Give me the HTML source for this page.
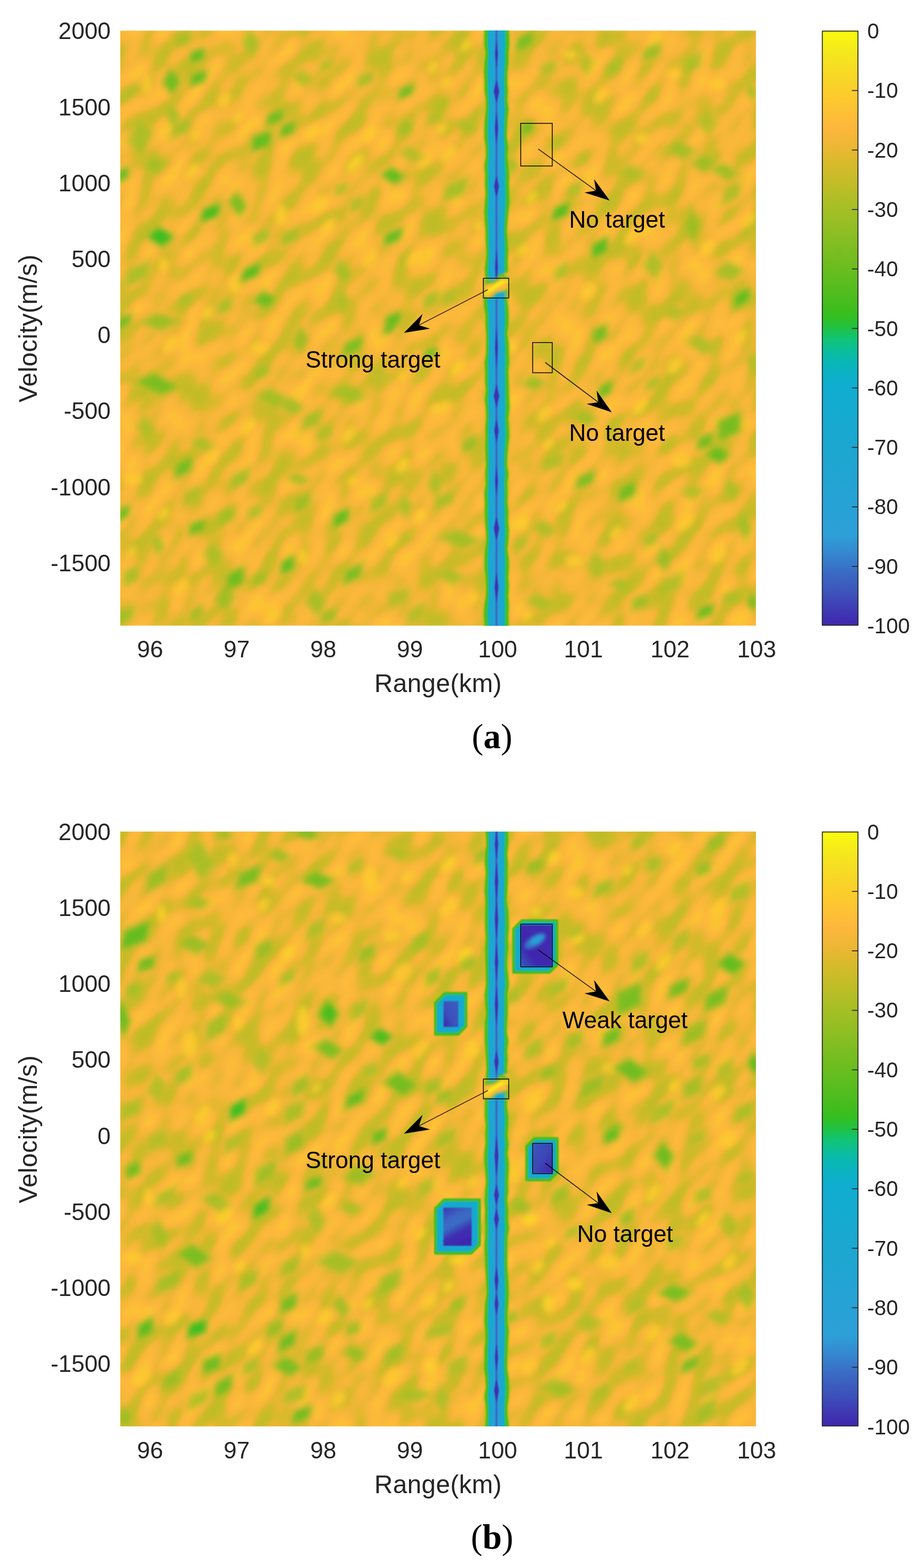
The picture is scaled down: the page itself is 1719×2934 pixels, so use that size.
<!DOCTYPE html>
<html lang="en"><head><meta charset="utf-8"><title>Range-velocity maps</title>
<style>html,body{margin:0;padding:0;background:#fff}body{width:1719px;height:2934px;overflow:hidden}svg{display:block}text{font-family:"Liberation Sans",Arial,Helvetica,sans-serif}.t{font-size:43.9px;fill:#262626}.c{font-size:39.8px;fill:#262626}.l{font-size:47.6px;fill:#262626;letter-spacing:.35px}.n{font-size:43.6px;fill:#000}.cap{font-family:"Liberation Serif","DejaVu Serif",serif;font-size:65px;fill:#000}</style></head><body>
<svg width="1719" height="2934" viewBox="0 0 1719 2934">
<defs>
<linearGradient id="cb" x1="0" y1="0" x2="0" y2="1">
<stop offset="0.000" stop-color="#f9fb0e"/>
<stop offset="0.040" stop-color="#f5e61e"/>
<stop offset="0.080" stop-color="#f8d626"/>
<stop offset="0.120" stop-color="#fdc730"/>
<stop offset="0.160" stop-color="#fdb83c"/>
<stop offset="0.190" stop-color="#f0b636"/>
<stop offset="0.220" stop-color="#d9ba2b"/>
<stop offset="0.260" stop-color="#c0bd27"/>
<stop offset="0.300" stop-color="#a4bf25"/>
<stop offset="0.350" stop-color="#87be22"/>
<stop offset="0.400" stop-color="#6abd1f"/>
<stop offset="0.450" stop-color="#4bbd1e"/>
<stop offset="0.480" stop-color="#35be1f"/>
<stop offset="0.500" stop-color="#1fc244"/>
<stop offset="0.520" stop-color="#10c47a"/>
<stop offset="0.550" stop-color="#08b9ae"/>
<stop offset="0.580" stop-color="#0cb0c8"/>
<stop offset="0.600" stop-color="#10add0"/>
<stop offset="0.700" stop-color="#1ba7d0"/>
<stop offset="0.800" stop-color="#27a2d5"/>
<stop offset="0.850" stop-color="#2e9fd8"/>
<stop offset="0.880" stop-color="#3586cf"/>
<stop offset="0.910" stop-color="#3a6cc4"/>
<stop offset="0.950" stop-color="#3d4fba"/>
<stop offset="0.980" stop-color="#3f35b2"/>
<stop offset="1.000" stop-color="#3f26ae"/>
</linearGradient>
<linearGradient id="st" gradientUnits="userSpaceOnUse" x1="914.7" y1="0" x2="942.7" y2="0">
<stop offset="0.0000" stop-color="#12acd0" stop-opacity="1"/>
<stop offset="0.0714" stop-color="#17a9d0" stop-opacity="1"/>
<stop offset="0.2143" stop-color="#1da6d1" stop-opacity="1"/>
<stop offset="0.4036" stop-color="#27a2d5" stop-opacity="1"/>
<stop offset="0.4500" stop-color="#3875c8" stop-opacity="1"/>
<stop offset="0.5000" stop-color="#3e46b7" stop-opacity="1"/>
<stop offset="0.5500" stop-color="#3875c8" stop-opacity="1"/>
<stop offset="0.5964" stop-color="#27a2d5" stop-opacity="1"/>
<stop offset="0.7857" stop-color="#1da6d1" stop-opacity="1"/>
<stop offset="0.9286" stop-color="#17a9d0" stop-opacity="1"/>
<stop offset="1.0000" stop-color="#12acd0" stop-opacity="1"/>
</linearGradient>
<filter id="b2" x="-50%" y="-50%" width="200%" height="200%"><feGaussianBlur stdDeviation="2"/></filter>
<filter id="b05" x="-20%" y="-1%" width="140%" height="102%"><feGaussianBlur stdDeviation="0.8"/></filter>
<filter id="b1" x="-50%" y="-50%" width="200%" height="200%"><feGaussianBlur stdDeviation="1"/></filter>
<filter id="b6" x="-50%" y="-50%" width="200%" height="200%"><feGaussianBlur stdDeviation="6"/></filter>
<filter id="b9" x="-50%" y="-50%" width="200%" height="200%"><feGaussianBlur stdDeviation="9"/></filter>
<clipPath id="cpa"><rect x="225.0" y="57.5" width="1189.0" height="1113.0"/></clipPath>
<clipPath id="cpb"><rect x="225.0" y="1556.0" width="1189.0" height="1113.0"/></clipPath>
<filter id="na" x="0" y="0" width="100%" height="100%" color-interpolation-filters="sRGB"><feTurbulence type="fractalNoise" baseFrequency="0.017 0.034" numOctaves="1" seed="3" result="t"/><feColorMatrix in="t" type="matrix" values="1 0 0 0 0  1 0 0 0 0  1 0 0 0 0  0 0 0 0 1"/><feComponentTransfer><feFuncR type="table" tableValues="0.737 0.741 0.741 0.745 0.745 0.749 0.749 0.753 0.753 0.761 0.769 0.776 0.788 0.804 0.820 0.835 0.855 0.878 0.902 0.929 0.949 0.961 0.973 0.980 0.988 0.992 0.992 0.992 0.992 0.992 0.992 0.992 0.992 0.992 0.992 0.992 0.988 0.988 0.988 0.984 0.984"/><feFuncG type="table" tableValues="0.741 0.741 0.741 0.741 0.741 0.741 0.741 0.741 0.741 0.741 0.737 0.737 0.737 0.733 0.733 0.729 0.729 0.725 0.722 0.718 0.714 0.718 0.718 0.722 0.722 0.725 0.733 0.741 0.749 0.757 0.761 0.769 0.773 0.776 0.780 0.784 0.788 0.792 0.796 0.800 0.804"/><feFuncB type="table" tableValues="0.153 0.153 0.153 0.153 0.153 0.153 0.153 0.153 0.153 0.153 0.157 0.157 0.157 0.161 0.165 0.165 0.173 0.180 0.192 0.208 0.216 0.220 0.227 0.231 0.235 0.231 0.227 0.220 0.216 0.208 0.204 0.200 0.196 0.192 0.188 0.188 0.184 0.180 0.180 0.176 0.173"/></feComponentTransfer></filter>
<filter id="nb" x="0" y="0" width="100%" height="100%" color-interpolation-filters="sRGB"><feTurbulence type="fractalNoise" baseFrequency="0.017 0.034" numOctaves="1" seed="11" result="t"/><feColorMatrix in="t" type="matrix" values="1 0 0 0 0  1 0 0 0 0  1 0 0 0 0  0 0 0 0 1"/><feComponentTransfer><feFuncR type="table" tableValues="0.737 0.741 0.741 0.745 0.745 0.749 0.749 0.753 0.753 0.761 0.769 0.776 0.788 0.804 0.820 0.835 0.855 0.878 0.902 0.929 0.949 0.961 0.973 0.980 0.988 0.992 0.992 0.992 0.992 0.992 0.992 0.992 0.992 0.992 0.992 0.992 0.988 0.988 0.988 0.984 0.984"/><feFuncG type="table" tableValues="0.741 0.741 0.741 0.741 0.741 0.741 0.741 0.741 0.741 0.741 0.737 0.737 0.737 0.733 0.733 0.729 0.729 0.725 0.722 0.718 0.714 0.718 0.718 0.722 0.722 0.725 0.733 0.741 0.749 0.757 0.761 0.769 0.773 0.776 0.780 0.784 0.788 0.792 0.796 0.800 0.804"/><feFuncB type="table" tableValues="0.153 0.153 0.153 0.153 0.153 0.153 0.153 0.153 0.153 0.153 0.157 0.157 0.157 0.161 0.165 0.165 0.173 0.180 0.192 0.208 0.216 0.220 0.227 0.231 0.235 0.231 0.227 0.220 0.216 0.208 0.204 0.200 0.196 0.192 0.188 0.188 0.184 0.180 0.180 0.176 0.173"/></feComponentTransfer></filter>
<linearGradient id="gW" x1="0" y1="1" x2="1" y2="0"><stop offset="0" stop-color="#3c56bc"/><stop offset=".3" stop-color="#3f26ae"/><stop offset="1" stop-color="#3f2eb0"/></linearGradient><linearGradient id="gL" x1="1" y1="0" x2="0" y2="1"><stop offset="0" stop-color="#3c5ebf"/><stop offset=".6" stop-color="#3d4fba"/><stop offset="1" stop-color="#3f26ae"/></linearGradient><linearGradient id="gN" x1="0" y1="0" x2="1" y2="1"><stop offset="0" stop-color="#3c56bc"/><stop offset=".5" stop-color="#3e46b7"/><stop offset="1" stop-color="#3f26ae"/></linearGradient><linearGradient id="gB" x1=".2" y1="0" x2=".6" y2="1"><stop offset="0" stop-color="#3e3eb5"/><stop offset=".25" stop-color="#3b65c2"/><stop offset=".45" stop-color="#3a6cc4"/><stop offset=".7" stop-color="#3f2eb0"/><stop offset="1" stop-color="#3f26ae"/></linearGradient>
<filter id="b3" x="-50%" y="-50%" width="200%" height="200%"><feGaussianBlur stdDeviation="3"/></filter>
<filter id="bg" x="-5%" y="-5%" width="110%" height="110%" color-interpolation-filters="sRGB"><feGaussianBlur stdDeviation="5.5"/></filter>
<filter id="by" x="-5%" y="-5%" width="110%" height="110%" color-interpolation-filters="sRGB"><feGaussianBlur stdDeviation="6"/></filter>
</defs>
<rect width="1719" height="2934" fill="#fff"/>
<g clip-path="url(#cpa)">
<rect x="225.0" y="57.5" width="1189.0" height="1113.0" fill="#ecb735"/>
<g transform="rotate(-52 819.5 614.0)"><rect x="-80.5" y="-286.0" width="1800" height="1800" filter="url(#na)"/></g>
<g filter="url(#by)" opacity=".95"><ellipse cx="274" cy="159" rx="8" ry="17" fill="#fcc92f"/><ellipse cx="420" cy="187" rx="14" ry="9" fill="#fcc92f" transform="rotate(-50 420 187)"/><ellipse cx="359" cy="321" rx="18" ry="9" fill="#fcc92f" transform="rotate(-50 359 321)"/><ellipse cx="664" cy="305" rx="21" ry="11" fill="#fbcd2c" transform="rotate(-50 664 305)"/><ellipse cx="599" cy="382" rx="18" ry="11" fill="#fcc92f" transform="rotate(-50 599 382)"/><ellipse cx="526" cy="403" rx="11" ry="20" fill="#fcc92f"/><ellipse cx="615" cy="423" rx="18" ry="9" fill="#fcc92f" transform="rotate(-50 615 423)"/><ellipse cx="440" cy="533" rx="11" ry="17" fill="#fcc92f"/><ellipse cx="583" cy="248" rx="18" ry="9" fill="#fcc92f" transform="rotate(-50 583 248)"/><ellipse cx="692" cy="252" rx="18" ry="9" fill="#fcc92f" transform="rotate(-50 692 252)"/><ellipse cx="810" cy="126" rx="11" ry="7" fill="#fad02a" transform="rotate(-50 810 126)"/><ellipse cx="794" cy="301" rx="18" ry="9" fill="#fcc92f" transform="rotate(-50 794 301)"/><ellipse cx="388" cy="585" rx="14" ry="9" fill="#fcc92f" transform="rotate(-50 388 585)"/><ellipse cx="692" cy="484" rx="18" ry="9" fill="#fcc92f" transform="rotate(-50 692 484)"/><ellipse cx="367" cy="252" rx="14" ry="7" fill="#fcc92f" transform="rotate(-50 367 252)"/><ellipse cx="445" cy="220" rx="14" ry="7" fill="#fcc92f" transform="rotate(-50 445 220)"/><ellipse cx="306" cy="496" rx="9" ry="14" fill="#fcc92f"/><ellipse cx="774" cy="484" rx="18" ry="9" fill="#fcc92f" transform="rotate(-50 774 484)"/><ellipse cx="872" cy="85" rx="14" ry="7" fill="#fad02a" transform="rotate(-50 872 85)"/><ellipse cx="835" cy="155" rx="11" ry="7" fill="#fbcd2c" transform="rotate(-50 835 155)"/><ellipse cx="1067" cy="102" rx="14" ry="9" fill="#fcc92f"/><ellipse cx="994" cy="370" rx="14" ry="7" fill="#fad02a" transform="rotate(-50 994 370)"/><ellipse cx="978" cy="468" rx="14" ry="7" fill="#fad02a" transform="rotate(-50 978 468)"/><ellipse cx="896" cy="423" rx="8" ry="11" fill="#fcc92f"/><ellipse cx="1124" cy="179" rx="18" ry="9" fill="#fcc92f" transform="rotate(-50 1124 179)"/><ellipse cx="1343" cy="159" rx="14" ry="9" fill="#fcc92f"/><ellipse cx="1201" cy="260" rx="14" ry="9" fill="#fcc92f"/><ellipse cx="827" cy="240" rx="11" ry="7" fill="#fad02a" transform="rotate(-50 827 240)"/><ellipse cx="839" cy="289" rx="18" ry="9" fill="#fcc92f" transform="rotate(-50 839 289)"/><ellipse cx="1100" cy="545" rx="18" ry="11" fill="#fcc92f" transform="rotate(-50 1100 545)"/><ellipse cx="1323" cy="464" rx="18" ry="11" fill="#fcc92f" transform="rotate(-50 1323 464)"/><ellipse cx="1181" cy="443" rx="18" ry="9" fill="#fcc92f" transform="rotate(-50 1181 443)"/><ellipse cx="1400" cy="411" rx="18" ry="9" fill="#fcc92f" transform="rotate(-50 1400 411)"/><ellipse cx="1262" cy="138" rx="14" ry="9" fill="#fcc92f"/><ellipse cx="465" cy="798" rx="18" ry="9" fill="#fbcd2c" transform="rotate(-50 465 798)"/><ellipse cx="786" cy="965" rx="14" ry="7" fill="#fad02a" transform="rotate(-50 786 965)"/><ellipse cx="566" cy="1042" rx="9" ry="14" fill="#fbcd2c"/><ellipse cx="660" cy="900" rx="11" ry="7" fill="#fbcd2c" transform="rotate(-50 660 900)"/><ellipse cx="733" cy="1013" rx="14" ry="7" fill="#fbcd2c" transform="rotate(-50 733 1013)"/><ellipse cx="396" cy="855" rx="14" ry="9" fill="#fcc92f" transform="rotate(-50 396 855)"/><ellipse cx="318" cy="644" rx="18" ry="9" fill="#fcc92f" transform="rotate(-50 318 644)"/><ellipse cx="485" cy="652" rx="17" ry="11" fill="#fcc92f"/><ellipse cx="306" cy="961" rx="14" ry="9" fill="#fcc92f" transform="rotate(-50 306 961)"/><ellipse cx="245" cy="1034" rx="14" ry="7" fill="#fcc92f" transform="rotate(-50 245 1034)"/><ellipse cx="339" cy="1099" rx="18" ry="9" fill="#fcc92f" transform="rotate(-50 339 1099)"/><ellipse cx="753" cy="704" rx="11" ry="7" fill="#fcc92f" transform="rotate(-50 753 704)"/><ellipse cx="652" cy="814" rx="18" ry="9" fill="#fcc92f" transform="rotate(-50 652 814)"/><ellipse cx="814" cy="765" rx="11" ry="6" fill="#fbcd2c" transform="rotate(-50 814 765)"/><ellipse cx="510" cy="1152" rx="18" ry="9" fill="#fcc92f" transform="rotate(-50 510 1152)"/><ellipse cx="753" cy="871" rx="18" ry="11" fill="#fcc92f" transform="rotate(-50 753 871)"/><ellipse cx="249" cy="896" rx="17" ry="11" fill="#fcc92f"/><ellipse cx="856" cy="688" rx="18" ry="9" fill="#fbcd2c" transform="rotate(-50 856 688)"/><ellipse cx="1197" cy="761" rx="18" ry="9" fill="#fbcd2c" transform="rotate(-50 1197 761)"/><ellipse cx="1026" cy="831" rx="11" ry="7" fill="#fad02a" transform="rotate(-50 1026 831)"/><ellipse cx="978" cy="981" rx="14" ry="9" fill="#fad02a" transform="rotate(-50 978 981)"/><ellipse cx="1051" cy="948" rx="14" ry="7" fill="#fbcd2c" transform="rotate(-50 1051 948)"/><ellipse cx="831" cy="761" rx="14" ry="7" fill="#fbcd2c" transform="rotate(-50 831 761)"/><ellipse cx="957" cy="648" rx="8" ry="11" fill="#fad02a"/><ellipse cx="1075" cy="1050" rx="17" ry="11" fill="#fcc92f"/><ellipse cx="1262" cy="684" rx="18" ry="11" fill="#fcc92f" transform="rotate(-50 1262 684)"/><ellipse cx="1282" cy="977" rx="21" ry="11" fill="#fcc92f" transform="rotate(-50 1282 977)"/><ellipse cx="1018" cy="774" rx="18" ry="9" fill="#fcc92f" transform="rotate(-50 1018 774)"/><ellipse cx="1384" cy="631" rx="18" ry="9" fill="#fcc92f" transform="rotate(-50 1384 631)"/><ellipse cx="1274" cy="863" rx="17" ry="11" fill="#fcc92f"/><ellipse cx="1152" cy="997" rx="14" ry="9" fill="#fcc92f" transform="rotate(-50 1152 997)"/><ellipse cx="884" cy="1119" rx="14" ry="9" fill="#fcc92f" transform="rotate(-50 884 1119)"/><ellipse cx="986" cy="1152" rx="11" ry="7" fill="#fbcd2c" transform="rotate(-50 986 1152)"/><ellipse cx="1343" cy="1038" rx="18" ry="11" fill="#fcc92f" transform="rotate(-50 1343 1038)"/></g>
<g filter="url(#bg)"><path d="M-27 -1L-4 -17L27 1L4 17Z" fill="#b9be26" opacity="0.6" transform="translate(369 104) rotate(-50)"/><path d="M-18 -1L-3 -12L18 1L3 12Z" fill="#64bd1f" transform="translate(369 104) rotate(-50)"/><path d="M-31 -2L-5 -17L31 2L5 17Z" fill="#b9be26" opacity="0.6" transform="translate(371 146) rotate(-50)"/><path d="M-21 -2L-3 -12L21 2L3 12Z" fill="#64bd1f" transform="translate(371 146) rotate(-50)"/><path d="M-22 2L-3 -34L22 -2L3 34Z" fill="#bdbd27" opacity="0.6" transform="translate(321 153)"/><path d="M-15 2L-2 -23L15 -2L2 23Z" fill="#70bd20" transform="translate(321 153)"/><path d="M-31 -3L-5 -17L31 3L5 17Z" fill="#bdbd27" opacity="0.6" transform="translate(514 220) rotate(-50)"/><path d="M-21 -3L-3 -12L21 3L3 12Z" fill="#70bd20" transform="translate(514 220) rotate(-50)"/><path d="M-31 0L-5 -17L31 -0L5 17Z" fill="#bdbd27" opacity="0.6" transform="translate(538 242) rotate(-50)"/><path d="M-21 0L-3 -12L21 -0L3 12Z" fill="#70bd20" transform="translate(538 242) rotate(-50)"/><path d="M-39 -1L-6 -24L39 1L6 24Z" fill="#b9be26" opacity="0.6" transform="translate(489 264) rotate(-50)"/><path d="M-26 -1L-4 -16L26 1L4 16Z" fill="#64bd1f" transform="translate(489 264) rotate(-50)"/><path d="M-35 -3L-5 -19L35 3L5 19Z" fill="#aebe26" opacity="0.6" transform="translate(394 398) rotate(-50)"/><path d="M-24 -3L-4 -13L24 3L4 13Z" fill="#44bd1e" transform="translate(394 398) rotate(-50)"/><path d="M-34 0L-5 -25L34 -0L5 25Z" fill="#acbe26" opacity="0.6" transform="translate(300 443)"/><path d="M-23 0L-3 -17L23 -0L3 17Z" fill="#3cbe1f" transform="translate(300 443)"/><path d="M-35 -3L-5 -17L35 3L5 17Z" fill="#b5be26" opacity="0.6" transform="translate(469 510) rotate(-50)"/><path d="M-24 -3L-4 -12L24 3L4 12Z" fill="#57bd1e" transform="translate(469 510) rotate(-50)"/><path d="M-31 -1L-5 -22L31 1L5 22Z" fill="#b9be26" opacity="0.6" transform="translate(735 329)"/><path d="M-21 -1L-3 -15L21 1L3 15Z" fill="#64bd1f" transform="translate(735 329)"/><path d="M-35 -3L-5 -17L35 3L5 17Z" fill="#b9be26" opacity="0.6" transform="translate(735 443) rotate(-50)"/><path d="M-24 -3L-4 -12L24 3L4 12Z" fill="#64bd1f" transform="translate(735 443) rotate(-50)"/><path d="M-31 -2L-5 -14L31 2L5 14Z" fill="#bdbd27" opacity="0.6" transform="translate(760 171) rotate(-50)"/><path d="M-21 -2L-3 -10L21 2L3 10Z" fill="#70bd20" transform="translate(760 171) rotate(-50)"/><path d="M-31 -0L-5 -17L31 0L5 17Z" fill="#b5be26" opacity="0.6" transform="translate(735 600) rotate(-50)"/><path d="M-21 -0L-3 -12L21 0L3 12Z" fill="#57bd1e" transform="translate(735 600) rotate(-50)"/><path d="M-31 3L-5 -22L31 -3L5 22Z" fill="#bdbd27" opacity="0.6" transform="translate(495 561)"/><path d="M-21 3L-3 -15L21 -3L3 15Z" fill="#70bd20" transform="translate(495 561)"/><path d="M-22 -4L-3 -31L22 4L3 31Z" fill="#c1bd27" opacity="0.6" transform="translate(445 382)"/><path d="M-15 -4L-2 -21L15 4L2 21Z" fill="#7bbe21" transform="translate(445 382)"/><path d="M-31 -2L-5 -17L31 2L5 17Z" fill="#c7bc28" opacity="0.45" transform="translate(684 148) rotate(-50)"/><path d="M-21 -2L-3 -12L21 2L3 12Z" fill="#98bf24" opacity=".8" transform="translate(684 148) rotate(-50)"/><path d="M-27 1L-4 -17L27 -1L4 17Z" fill="#c7bc28" opacity="0.45" transform="translate(758 240) rotate(-50)"/><path d="M-18 1L-3 -12L18 -1L3 12Z" fill="#98bf24" opacity=".8" transform="translate(758 240) rotate(-50)"/><path d="M-27 2L-4 -14L27 -2L4 14Z" fill="#b9be26" opacity="0.6" transform="translate(229 327) rotate(-50)"/><path d="M-18 2L-3 -10L18 -2L3 10Z" fill="#64bd1f" transform="translate(229 327) rotate(-50)"/><path d="M-22 1L-3 -37L22 -1L3 37Z" fill="#c9bc28" opacity="0.45" transform="translate(469 81)"/><path d="M-15 1L-2 -25L15 -1L2 25Z" fill="#9ebf24" opacity=".8" transform="translate(469 81)"/><path d="M-31 -1L-5 -17L31 1L5 17Z" fill="#c9bc28" opacity="0.45" transform="translate(343 73) rotate(-50)"/><path d="M-21 -1L-3 -12L21 1L3 12Z" fill="#9ebf24" opacity=".8" transform="translate(343 73) rotate(-50)"/><path d="M-31 9L-5 -49L31 -9L5 49Z" fill="#cbbc29" opacity="0.45" transform="translate(262 256)"/><path d="M-21 9L-3 -34L21 -9L3 34Z" fill="#a4bf25" opacity=".8" transform="translate(262 256)"/><path d="M-39 -3L-6 -19L39 3L6 19Z" fill="#c9bc28" opacity="0.45" transform="translate(339 240) rotate(-50)"/><path d="M-26 -3L-4 -13L26 3L4 13Z" fill="#9ebf24" opacity=".8" transform="translate(339 240) rotate(-50)"/><path d="M-31 3L-5 -22L31 -3L5 22Z" fill="#c9bc28" opacity="0.45" transform="translate(290 309)"/><path d="M-21 3L-3 -15L21 -3L3 15Z" fill="#9ebf24" opacity=".8" transform="translate(290 309)"/><path d="M-31 -1L-5 -17L31 1L5 17Z" fill="#c7bc28" opacity="0.45" transform="translate(489 443) rotate(-50)"/><path d="M-21 -1L-3 -12L21 1L3 12Z" fill="#98bf24" opacity=".8" transform="translate(489 443) rotate(-50)"/><path d="M-35 -3L-5 -19L35 3L5 19Z" fill="#c7bc28" opacity="0.45" transform="translate(542 443) rotate(-50)"/><path d="M-24 -3L-4 -13L24 3L4 13Z" fill="#98bf24" opacity=".8" transform="translate(542 443) rotate(-50)"/><path d="M-22 -4L-3 -31L22 4L3 31Z" fill="#c9bc28" opacity="0.45" transform="translate(640 508)"/><path d="M-15 -4L-2 -21L15 4L2 21Z" fill="#9ebf24" opacity=".8" transform="translate(640 508)"/><path d="M-46 -2L-7 -24L46 2L7 24Z" fill="#c9bc28" opacity="0.45" transform="translate(258 512) rotate(-50)"/><path d="M-32 -2L-5 -16L32 2L5 16Z" fill="#9ebf24" opacity=".8" transform="translate(258 512) rotate(-50)"/><path d="M-49 3L-7 -22L49 -3L7 22Z" fill="#c3bd28" opacity="0.45" transform="translate(298 602)"/><path d="M-34 3L-5 -15L34 -3L5 15Z" fill="#8dbe23" opacity=".8" transform="translate(298 602)"/><path d="M-31 -2L-5 -14L31 2L5 14Z" fill="#bdbd27" opacity="0.6" transform="translate(231 602) rotate(-50)"/><path d="M-21 -2L-3 -10L21 2L3 10Z" fill="#70bd20" transform="translate(231 602) rotate(-50)"/><path d="M-31 1L-5 -19L31 -1L5 19Z" fill="#c9bc28" opacity="0.45" transform="translate(806 561) rotate(-50)"/><path d="M-21 1L-3 -13L21 -1L3 13Z" fill="#9ebf24" opacity=".8" transform="translate(806 561) rotate(-50)"/><path d="M-31 1L-5 -17L31 -1L5 17Z" fill="#c9bc28" opacity="0.45" transform="translate(420 573) rotate(-50)"/><path d="M-21 1L-3 -12L21 -1L3 12Z" fill="#9ebf24" opacity=".8" transform="translate(420 573) rotate(-50)"/><path d="M-23 -1L-3 -14L23 1L3 14Z" fill="#cbbc29" opacity="0.45" transform="translate(638 354) rotate(-50)"/><path d="M-16 -1L-2 -10L16 1L2 10Z" fill="#a4bf25" opacity=".8" transform="translate(638 354) rotate(-50)"/><path d="M-31 0L-5 -19L31 -0L5 19Z" fill="#ccbc29" opacity="0.45" transform="translate(668 382) rotate(-50)"/><path d="M-21 0L-3 -13L21 -0L3 13Z" fill="#abbe26" opacity=".8" transform="translate(668 382) rotate(-50)"/><path d="M-31 -3L-5 -22L31 3L5 22Z" fill="#ccbc29" opacity="0.45" transform="translate(566 146)"/><path d="M-21 -3L-3 -15L21 3L3 15Z" fill="#abbe26" opacity=".8" transform="translate(566 146)"/><path d="M-31 -4L-5 -22L31 4L5 22Z" fill="#ccbc29" opacity="0.45" transform="translate(770 289)"/><path d="M-21 -4L-3 -15L21 4L3 15Z" fill="#abbe26" opacity=".8" transform="translate(770 289)"/><path d="M-19 -3L-3 -31L19 3L3 31Z" fill="#c9bc28" opacity="0.45" transform="translate(323 216)"/><path d="M-13 -3L-2 -21L13 3L2 21Z" fill="#9ebf24" opacity=".8" transform="translate(323 216)"/><path d="M-19 2L-3 -31L19 -2L3 31Z" fill="#ccbc29" opacity="0.45" transform="translate(640 565)"/><path d="M-13 2L-2 -21L13 -2L2 21Z" fill="#abbe26" opacity=".8" transform="translate(640 565)"/><path d="M-31 -0L-5 -14L31 0L5 14Z" fill="#ccbc29" opacity="0.45" transform="translate(245 171) rotate(-50)"/><path d="M-21 -0L-3 -10L21 0L3 10Z" fill="#abbe26" opacity=".8" transform="translate(245 171) rotate(-50)"/><path d="M-31 -1L-5 -14L31 1L5 14Z" fill="#ccbc29" opacity="0.45" transform="translate(814 220) rotate(-50)"/><path d="M-21 -1L-3 -10L21 1L3 10Z" fill="#abbe26" opacity=".8" transform="translate(814 220) rotate(-50)"/><path d="M-31 0L-5 -14L31 -0L5 14Z" fill="#cbbc29" opacity="0.45" transform="translate(347 561) rotate(-50)"/><path d="M-21 0L-3 -10L21 -0L3 10Z" fill="#a4bf25" opacity=".8" transform="translate(347 561) rotate(-50)"/><path d="M-31 -0L-5 -14L31 0L5 14Z" fill="#cebb29" opacity="0.45" transform="translate(611 122) rotate(-50)"/><path d="M-21 -0L-3 -10L21 0L3 10Z" fill="#b2be26" opacity=".8" transform="translate(611 122) rotate(-50)"/><path d="M-35 -1L-5 -17L35 1L5 17Z" fill="#b5be26" opacity="0.6" transform="translate(1049 396) rotate(-50)"/><path d="M-24 -1L-4 -12L24 1L4 12Z" fill="#57bd1e" transform="translate(1049 396) rotate(-50)"/><path d="M-35 2L-5 -19L35 -2L5 19Z" fill="#b5be26" opacity="0.6" transform="translate(1122 464) rotate(-50)"/><path d="M-24 2L-4 -13L24 -2L4 13Z" fill="#57bd1e" transform="translate(1122 464) rotate(-50)"/><path d="M-35 1L-5 -17L35 -1L5 17Z" fill="#b9be26" opacity="0.6" transform="translate(1388 557) rotate(-50)"/><path d="M-24 1L-4 -12L24 -1L4 12Z" fill="#64bd1f" transform="translate(1388 557) rotate(-50)"/><path d="M-35 -2L-5 -19L35 2L5 19Z" fill="#c3bd28" opacity="0.45" transform="translate(1219 98) rotate(-50)"/><path d="M-24 -2L-4 -13L24 2L4 13Z" fill="#8dbe23" opacity=".8" transform="translate(1219 98) rotate(-50)"/><path d="M-39 1L-6 -19L39 -1L6 19Z" fill="#c1bd27" opacity="0.6" transform="translate(982 77) rotate(-50)"/><path d="M-26 1L-4 -13L26 -1L4 13Z" fill="#7bbe21" transform="translate(982 77) rotate(-50)"/><path d="M-31 0L-5 -17L31 -0L5 17Z" fill="#ccbc29" opacity="0.45" transform="translate(1026 128) rotate(-50)"/><path d="M-21 0L-3 -12L21 -0L3 12Z" fill="#abbe26" opacity=".8" transform="translate(1026 128) rotate(-50)"/><path d="M-35 2L-5 -17L35 -2L5 17Z" fill="#cbbc29" opacity="0.45" transform="translate(1148 126) rotate(-50)"/><path d="M-24 2L-4 -12L24 -2L4 12Z" fill="#a4bf25" opacity=".8" transform="translate(1148 126) rotate(-50)"/><path d="M-39 2L-6 -19L39 -2L6 19Z" fill="#cbbc29" opacity="0.45" transform="translate(1295 118) rotate(-50)"/><path d="M-26 2L-4 -13L26 -2L4 13Z" fill="#a4bf25" opacity=".8" transform="translate(1295 118) rotate(-50)"/><path d="M-37 -2L-6 -25L37 2L6 25Z" fill="#c7bc28" opacity="0.45" transform="translate(1274 281)"/><path d="M-25 -2L-4 -17L25 2L4 17Z" fill="#98bf24" opacity=".8" transform="translate(1274 281)"/><path d="M-31 4L-5 -22L31 -4L5 22Z" fill="#c5bc28" opacity="0.45" transform="translate(1315 305)"/><path d="M-21 4L-3 -15L21 -4L3 15Z" fill="#93be23" opacity=".8" transform="translate(1315 305)"/><path d="M-37 -3L-6 -22L37 3L6 22Z" fill="#c5bc28" opacity="0.45" transform="translate(1356 321)"/><path d="M-25 -3L-4 -15L25 3L4 15Z" fill="#93be23" opacity=".8" transform="translate(1356 321)"/><path d="M-19 -1L-3 -49L19 1L3 49Z" fill="#c5bc28" opacity="0.45" transform="translate(1295 423)"/><path d="M-13 -1L-2 -34L13 1L2 34Z" fill="#93be23" opacity=".8" transform="translate(1295 423)"/><path d="M-37 2L-6 -25L37 -2L6 25Z" fill="#c7bc28" opacity="0.45" transform="translate(1364 508)"/><path d="M-25 2L-4 -17L25 -2L4 17Z" fill="#98bf24" opacity=".8" transform="translate(1364 508)"/><path d="M-46 -3L-7 -24L46 3L7 24Z" fill="#c7bc28" opacity="0.45" transform="translate(852 354) rotate(-50)"/><path d="M-32 -3L-5 -16L32 3L5 16Z" fill="#98bf24" opacity=".8" transform="translate(852 354) rotate(-50)"/><path d="M-23 -0L-3 -14L23 0L3 14Z" fill="#bdbd27" opacity="0.6" transform="translate(986 240) rotate(-50)"/><path d="M-16 -0L-2 -10L16 0L2 10Z" fill="#70bd20" transform="translate(986 240) rotate(-50)"/><path d="M-31 -3L-5 -15L31 3L5 15Z" fill="#cbbc29" opacity="0.45" transform="translate(872 236)"/><path d="M-21 -3L-3 -11L21 3L3 11Z" fill="#a4bf25" opacity=".8" transform="translate(872 236)"/><path d="M-25 2L-4 -37L25 -2L4 37Z" fill="#cbbc29" opacity="0.45" transform="translate(1222 496)"/><path d="M-17 2L-3 -25L17 -2L3 25Z" fill="#a4bf25" opacity=".8" transform="translate(1222 496)"/><path d="M-39 2L-6 -19L39 -2L6 19Z" fill="#cbbc29" opacity="0.45" transform="translate(1368 362) rotate(-50)"/><path d="M-26 2L-4 -13L26 -2L4 13Z" fill="#a4bf25" opacity=".8" transform="translate(1368 362) rotate(-50)"/><path d="M-37 1L-6 -22L37 -1L6 22Z" fill="#ccbc29" opacity="0.45" transform="translate(1181 325)"/><path d="M-25 1L-4 -15L25 -1L4 15Z" fill="#abbe26" opacity=".8" transform="translate(1181 325)"/><path d="M-31 2L-5 -14L31 -2L5 14Z" fill="#c9bc28" opacity="0.45" transform="translate(1051 508) rotate(-50)"/><path d="M-21 2L-3 -10L21 -2L3 10Z" fill="#9ebf24" opacity=".8" transform="translate(1051 508) rotate(-50)"/><path d="M-15 -2L-2 -25L15 2L2 25Z" fill="#cbbc29" opacity="0.45" transform="translate(1406 171)"/><path d="M-11 -2L-2 -17L11 2L2 17Z" fill="#a4bf25" opacity=".8" transform="translate(1406 171)"/><path d="M-31 1L-5 -14L31 -1L5 14Z" fill="#ccbc29" opacity="0.45" transform="translate(827 195) rotate(-50)"/><path d="M-21 1L-3 -10L21 -1L3 10Z" fill="#abbe26" opacity=".8" transform="translate(827 195) rotate(-50)"/><path d="M-19 1L-3 -31L19 -1L3 31Z" fill="#cebb29" opacity="0.45" transform="translate(1095 118)"/><path d="M-13 1L-2 -21L13 -1L2 21Z" fill="#b2be26" opacity=".8" transform="translate(1095 118)"/><path d="M-25 1L-4 -37L25 -1L4 37Z" fill="#cebb29" opacity="0.45" transform="translate(1323 228)"/><path d="M-17 1L-3 -25L17 -1L3 25Z" fill="#b2be26" opacity=".8" transform="translate(1323 228)"/><path d="M-31 -0L-5 -14L31 0L5 14Z" fill="#cbbc29" opacity="0.45" transform="translate(1075 354) rotate(-50)"/><path d="M-21 -0L-3 -10L21 0L3 10Z" fill="#a4bf25" opacity=".8" transform="translate(1075 354) rotate(-50)"/><path d="M-31 2L-5 -19L31 -2L5 19Z" fill="#ccbc29" opacity="0.45" transform="translate(839 557) rotate(-50)"/><path d="M-21 2L-3 -13L21 -2L3 13Z" fill="#abbe26" opacity=".8" transform="translate(839 557) rotate(-50)"/><path d="M-31 3L-5 -19L31 -3L5 19Z" fill="#ccbc29" opacity="0.45" transform="translate(1262 585)"/><path d="M-21 3L-3 -13L21 -3L3 13Z" fill="#abbe26" opacity=".8" transform="translate(1262 585)"/><path d="M-15 -0L-2 -25L15 0L2 25Z" fill="#c9bc28" opacity="0.45" transform="translate(957 309)"/><path d="M-11 -0L-2 -17L11 0L2 17Z" fill="#9ebf24" opacity=".8" transform="translate(957 309)"/><path d="M-31 1L-5 -14L31 -1L5 14Z" fill="#cebb29" opacity="0.45" transform="translate(1043 268) rotate(-50)"/><path d="M-21 1L-3 -10L21 -1L3 10Z" fill="#b2be26" opacity=".8" transform="translate(1043 268) rotate(-50)"/><path d="M-56 -5L-8 -28L56 5L8 28Z" fill="#c1bd27" opacity="0.6" transform="translate(294 719)"/><path d="M-38 -5L-6 -19L38 5L6 19Z" fill="#7bbe21" transform="translate(294 719)"/><path d="M-39 1L-6 -19L39 -1L6 19Z" fill="#bfbd27" opacity="0.6" transform="translate(343 875) rotate(-50)"/><path d="M-26 1L-4 -13L26 -1L4 13Z" fill="#76bd20" transform="translate(343 875) rotate(-50)"/><path d="M-35 1L-5 -17L35 -1L5 17Z" fill="#b9be26" opacity="0.6" transform="translate(638 969) rotate(-50)"/><path d="M-24 1L-4 -12L24 -1L4 12Z" fill="#64bd1f" transform="translate(638 969) rotate(-50)"/><path d="M-31 3L-5 -17L31 -3L5 17Z" fill="#b9be26" opacity="0.6" transform="translate(538 1058) rotate(-50)"/><path d="M-21 3L-3 -12L21 -3L3 12Z" fill="#64bd1f" transform="translate(538 1058) rotate(-50)"/><path d="M-39 3L-6 -22L39 -3L6 22Z" fill="#bdbd27" opacity="0.6" transform="translate(440 1083) rotate(-50)"/><path d="M-26 3L-4 -15L26 -3L4 15Z" fill="#70bd20" transform="translate(440 1083) rotate(-50)"/><path d="M-31 -2L-5 -19L31 2L5 19Z" fill="#bfbd27" opacity="0.6" transform="translate(369 987) rotate(-50)"/><path d="M-21 -2L-3 -13L21 2L3 13Z" fill="#76bd20" transform="translate(369 987) rotate(-50)"/><path d="M-39 -1L-6 -19L39 1L6 19Z" fill="#c1bd27" opacity="0.6" transform="translate(660 1074) rotate(-50)"/><path d="M-26 -1L-4 -13L26 1L4 13Z" fill="#7bbe21" transform="translate(660 1074) rotate(-50)"/><path d="M-31 1L-5 -14L31 -1L5 14Z" fill="#bdbd27" opacity="0.6" transform="translate(229 961) rotate(-50)"/><path d="M-21 1L-3 -10L21 -1L3 10Z" fill="#70bd20" transform="translate(229 961) rotate(-50)"/><path d="M-43 -4L-6 -25L43 4L6 25Z" fill="#c7bc28" opacity="0.45" transform="translate(510 745)"/><path d="M-30 -4L-4 -17L30 4L4 17Z" fill="#98bf24" opacity=".8" transform="translate(510 745)"/><path d="M-31 -0L-5 -22L31 0L5 22Z" fill="#c7bc28" opacity="0.45" transform="translate(546 761)"/><path d="M-21 -0L-3 -15L21 0L3 15Z" fill="#98bf24" opacity=".8" transform="translate(546 761)"/><path d="M-39 -2L-6 -19L39 2L6 19Z" fill="#c7bc28" opacity="0.45" transform="translate(583 786) rotate(-50)"/><path d="M-26 -2L-4 -13L26 2L4 13Z" fill="#98bf24" opacity=".8" transform="translate(583 786) rotate(-50)"/><path d="M-49 -3L-7 -25L49 3L7 25Z" fill="#c9bc28" opacity="0.45" transform="translate(652 737)"/><path d="M-34 -3L-5 -17L34 3L5 17Z" fill="#9ebf24" opacity=".8" transform="translate(652 737)"/><path d="M-39 -3L-6 -19L39 3L6 19Z" fill="#c1bd27" opacity="0.6" transform="translate(660 648) rotate(-50)"/><path d="M-26 -3L-4 -13L26 3L4 13Z" fill="#7bbe21" transform="translate(660 648) rotate(-50)"/><path d="M-19 4L-3 -37L19 -4L3 37Z" fill="#c5bc28" opacity="0.45" transform="translate(562 635)"/><path d="M-13 4L-2 -25L13 -4L2 25Z" fill="#93be23" opacity=".8" transform="translate(562 635)"/><path d="M-23 -2L-3 -12L23 2L3 12Z" fill="#b9be26" opacity="0.6" transform="translate(729 615) rotate(-50)"/><path d="M-16 -2L-2 -8L16 2L2 8Z" fill="#64bd1f" transform="translate(729 615) rotate(-50)"/><path d="M-31 -2L-5 -17L31 2L5 17Z" fill="#c9bc28" opacity="0.45" transform="translate(489 696) rotate(-50)"/><path d="M-21 -2L-3 -12L21 2L3 12Z" fill="#9ebf24" opacity=".8" transform="translate(489 696) rotate(-50)"/><path d="M-39 -1L-6 -19L39 1L6 19Z" fill="#c7bc28" opacity="0.45" transform="translate(449 896) rotate(-50)"/><path d="M-26 -1L-4 -13L26 1L4 13Z" fill="#98bf24" opacity=".8" transform="translate(449 896) rotate(-50)"/><path d="M-39 3L-6 -19L39 -3L6 19Z" fill="#c5bc28" opacity="0.45" transform="translate(566 940) rotate(-50)"/><path d="M-26 3L-4 -13L26 -3L4 13Z" fill="#93be23" opacity=".8" transform="translate(566 940) rotate(-50)"/><path d="M-31 -2L-5 -15L31 2L5 15Z" fill="#c9bc28" opacity="0.45" transform="translate(558 896)"/><path d="M-21 -2L-3 -11L21 2L3 11Z" fill="#9ebf24" opacity=".8" transform="translate(558 896)"/><path d="M-35 -0L-5 -19L35 0L5 19Z" fill="#c7bc28" opacity="0.45" transform="translate(424 965) rotate(-50)"/><path d="M-24 -0L-4 -13L24 0L4 13Z" fill="#98bf24" opacity=".8" transform="translate(424 965) rotate(-50)"/><path d="M-31 0L-5 -19L31 -0L5 19Z" fill="#ccbc29" opacity="0.45" transform="translate(607 810) rotate(-50)"/><path d="M-21 0L-3 -13L21 -0L3 13Z" fill="#abbe26" opacity=".8" transform="translate(607 810) rotate(-50)"/><path d="M-39 3L-6 -19L39 -3L6 19Z" fill="#c9bc28" opacity="0.45" transform="translate(709 940) rotate(-50)"/><path d="M-26 3L-4 -13L26 -3L4 13Z" fill="#9ebf24" opacity=".8" transform="translate(709 940) rotate(-50)"/><path d="M-19 4L-3 -37L19 -4L3 37Z" fill="#cbbc29" opacity="0.45" transform="translate(814 904)"/><path d="M-13 4L-2 -25L13 -4L2 25Z" fill="#a4bf25" opacity=".8" transform="translate(814 904)"/><path d="M-25 5L-4 -37L25 -5L4 37Z" fill="#c5bc28" opacity="0.45" transform="translate(420 1119)"/><path d="M-17 5L-3 -25L17 -5L3 25Z" fill="#93be23" opacity=".8" transform="translate(420 1119)"/><path d="M-31 -1L-5 -17L31 1L5 17Z" fill="#c7bc28" opacity="0.45" transform="translate(485 1083) rotate(-50)"/><path d="M-21 -1L-3 -12L21 1L3 12Z" fill="#98bf24" opacity=".8" transform="translate(485 1083) rotate(-50)"/><path d="M-25 -1L-4 -37L25 1L4 37Z" fill="#c9bc28" opacity="0.45" transform="translate(591 1127)"/><path d="M-17 -1L-3 -25L17 1L3 25Z" fill="#9ebf24" opacity=".8" transform="translate(591 1127)"/><path d="M-31 -1L-5 -14L31 1L5 14Z" fill="#c3bd28" opacity="0.45" transform="translate(615 1152) rotate(-50)"/><path d="M-21 -1L-3 -10L21 1L3 10Z" fill="#8dbe23" opacity=".8" transform="translate(615 1152) rotate(-50)"/><path d="M-31 2L-5 -14L31 -2L5 14Z" fill="#c5bc28" opacity="0.45" transform="translate(367 1148) rotate(-50)"/><path d="M-21 2L-3 -10L21 -2L3 10Z" fill="#93be23" opacity=".8" transform="translate(367 1148) rotate(-50)"/><path d="M-31 3L-5 -19L31 -3L5 19Z" fill="#c9bc28" opacity="0.45" transform="translate(245 1078) rotate(-50)"/><path d="M-21 3L-3 -13L21 -3L3 13Z" fill="#9ebf24" opacity=".8" transform="translate(245 1078) rotate(-50)"/><path d="M-19 -4L-3 -31L19 4L3 31Z" fill="#cbbc29" opacity="0.45" transform="translate(294 1018)"/><path d="M-13 -4L-2 -21L13 4L2 21Z" fill="#a4bf25" opacity=".8" transform="translate(294 1018)"/><path d="M-39 -3L-6 -24L39 3L6 24Z" fill="#ccbc29" opacity="0.45" transform="translate(745 1119) rotate(-50)"/><path d="M-26 -3L-4 -16L26 3L4 16Z" fill="#abbe26" opacity=".8" transform="translate(745 1119) rotate(-50)"/><path d="M-39 -2L-6 -19L39 2L6 19Z" fill="#c7bc28" opacity="0.45" transform="translate(233 1152) rotate(-50)"/><path d="M-26 -2L-4 -13L26 2L4 13Z" fill="#98bf24" opacity=".8" transform="translate(233 1152) rotate(-50)"/><path d="M-25 -4L-4 -37L25 4L4 37Z" fill="#ccbc29" opacity="0.45" transform="translate(274 802)"/><path d="M-17 -4L-3 -25L17 4L3 25Z" fill="#abbe26" opacity=".8" transform="translate(274 802)"/><path d="M-25 -0L-4 -37L25 0L4 37Z" fill="#cbbc29" opacity="0.45" transform="translate(400 1038)"/><path d="M-17 -0L-3 -25L17 0L3 25Z" fill="#a4bf25" opacity=".8" transform="translate(400 1038)"/><path d="M-19 1L-3 -31L19 -1L3 31Z" fill="#cbbc29" opacity="0.45" transform="translate(758 948)"/><path d="M-13 1L-2 -21L13 -1L2 21Z" fill="#a4bf25" opacity=".8" transform="translate(758 948)"/><path d="M-31 -2L-5 -19L31 2L5 19Z" fill="#cbbc29" opacity="0.45" transform="translate(379 831)"/><path d="M-21 -2L-3 -13L21 2L3 13Z" fill="#a4bf25" opacity=".8" transform="translate(379 831)"/><path d="M-23 -3L-3 -14L23 3L3 14Z" fill="#c1bd27" opacity="0.6" transform="translate(806 660) rotate(-50)"/><path d="M-16 -3L-2 -10L16 3L2 10Z" fill="#7bbe21" transform="translate(806 660) rotate(-50)"/><path d="M-31 -0L-5 -14L31 0L5 14Z" fill="#cbbc29" opacity="0.45" transform="translate(477 957) rotate(-50)"/><path d="M-21 -0L-3 -10L21 0L3 10Z" fill="#a4bf25" opacity=".8" transform="translate(477 957) rotate(-50)"/><path d="M-39 -1L-6 -19L39 1L6 19Z" fill="#ccbc29" opacity="0.45" transform="translate(359 928) rotate(-50)"/><path d="M-26 -1L-4 -13L26 1L4 13Z" fill="#abbe26" opacity=".8" transform="translate(359 928) rotate(-50)"/><path d="M-39 0L-6 -19L39 -0L6 19Z" fill="#ccbc29" opacity="0.45" transform="translate(778 1148) rotate(-50)"/><path d="M-26 0L-4 -13L26 -0L4 13Z" fill="#abbe26" opacity=".8" transform="translate(778 1148) rotate(-50)"/><path d="M-31 3L-5 -19L31 -3L5 19Z" fill="#bfbd27" opacity="0.6" transform="translate(1122 625) rotate(-50)"/><path d="M-21 3L-3 -13L21 -3L3 13Z" fill="#76bd20" transform="translate(1122 625) rotate(-50)"/><path d="M-46 2L-7 -29L46 -2L7 29Z" fill="#bfbd27" opacity="0.6" transform="translate(1364 798) rotate(-50)"/><path d="M-32 2L-5 -20L32 -2L5 20Z" fill="#76bd20" transform="translate(1364 798) rotate(-50)"/><path d="M-31 0L-5 -19L31 -0L5 19Z" fill="#bfbd27" opacity="0.6" transform="translate(1319 826) rotate(-50)"/><path d="M-21 0L-3 -13L21 -0L3 13Z" fill="#76bd20" transform="translate(1319 826) rotate(-50)"/><path d="M-31 1L-5 -22L31 -1L5 22Z" fill="#bbbd27" opacity="0.6" transform="translate(1343 851)"/><path d="M-21 1L-3 -15L21 -1L3 15Z" fill="#6abd1f" transform="translate(1343 851)"/><path d="M-39 1L-6 -19L39 -1L6 19Z" fill="#bdbd27" opacity="0.6" transform="translate(1173 920) rotate(-50)"/><path d="M-26 1L-4 -13L26 -1L4 13Z" fill="#70bd20" transform="translate(1173 920) rotate(-50)"/><path d="M-35 -3L-5 -17L35 3L5 17Z" fill="#c1bd27" opacity="0.6" transform="translate(1095 898) rotate(-50)"/><path d="M-24 -3L-4 -12L24 3L4 12Z" fill="#7bbe21" transform="translate(1095 898) rotate(-50)"/><path d="M-31 2L-5 -17L31 -2L5 17Z" fill="#c3bd28" opacity="0.45" transform="translate(878 831) rotate(-50)"/><path d="M-21 2L-3 -12L21 -2L3 12Z" fill="#8dbe23" opacity=".8" transform="translate(878 831) rotate(-50)"/><path d="M-31 1L-5 -14L31 -1L5 14Z" fill="#bdbd27" opacity="0.6" transform="translate(1132 729) rotate(-50)"/><path d="M-21 1L-3 -10L21 -1L3 10Z" fill="#70bd20" transform="translate(1132 729) rotate(-50)"/><path d="M-31 3L-5 -19L31 -3L5 19Z" fill="#c5bc28" opacity="0.45" transform="translate(998 717)"/><path d="M-21 3L-3 -13L21 -3L3 13Z" fill="#93be23" opacity=".8" transform="translate(998 717)"/><path d="M-22 3L-3 -31L22 -3L3 31Z" fill="#c3bd28" opacity="0.45" transform="translate(1242 1046)"/><path d="M-15 3L-2 -21L15 -3L2 21Z" fill="#8dbe23" opacity=".8" transform="translate(1242 1046)"/><path d="M-31 -1L-5 -14L31 1L5 14Z" fill="#c7bc28" opacity="0.45" transform="translate(1217 1009) rotate(-50)"/><path d="M-21 -1L-3 -10L21 1L3 10Z" fill="#98bf24" opacity=".8" transform="translate(1217 1009) rotate(-50)"/><path d="M-31 -1L-5 -19L31 1L5 19Z" fill="#c3bd28" opacity="0.45" transform="translate(1197 1127) rotate(-50)"/><path d="M-21 -1L-3 -13L21 1L3 13Z" fill="#8dbe23" opacity=".8" transform="translate(1197 1127) rotate(-50)"/><path d="M-31 -3L-5 -19L31 3L5 19Z" fill="#bdbd27" opacity="0.6" transform="translate(1319 1144) rotate(-50)"/><path d="M-21 -3L-3 -13L21 3L3 13Z" fill="#70bd20" transform="translate(1319 1144) rotate(-50)"/><path d="M-15 1L-2 -25L15 -1L2 25Z" fill="#bfbd27" opacity="0.6" transform="translate(1408 1127)"/><path d="M-10 1L-2 -17L10 -1L2 17Z" fill="#76bd20" transform="translate(1408 1127)"/><path d="M-56 -4L-8 -25L56 4L8 25Z" fill="#c7bc28" opacity="0.45" transform="translate(860 1009)"/><path d="M-38 -4L-6 -17L38 4L6 17Z" fill="#98bf24" opacity=".8" transform="translate(860 1009)"/><path d="M-39 -3L-6 -19L39 3L6 19Z" fill="#c9bc28" opacity="0.45" transform="translate(831 936) rotate(-50)"/><path d="M-26 -3L-4 -13L26 3L4 13Z" fill="#9ebf24" opacity=".8" transform="translate(831 936) rotate(-50)"/><path d="M-37 -2L-6 -22L37 2L6 22Z" fill="#cbbc29" opacity="0.45" transform="translate(843 1078)"/><path d="M-25 -2L-4 -15L25 2L4 15Z" fill="#a4bf25" opacity=".8" transform="translate(843 1078)"/><path d="M-31 -2L-5 -19L31 2L5 19Z" fill="#c7bc28" opacity="0.45" transform="translate(1095 782)"/><path d="M-21 -2L-3 -13L21 2L3 13Z" fill="#98bf24" opacity=".8" transform="translate(1095 782)"/><path d="M-19 -2L-3 -37L19 2L3 37Z" fill="#c7bc28" opacity="0.45" transform="translate(1392 985)"/><path d="M-13 -2L-2 -25L13 2L2 25Z" fill="#98bf24" opacity=".8" transform="translate(1392 985)"/><path d="M-19 -5L-3 -31L19 5L3 31Z" fill="#cbbc29" opacity="0.45" transform="translate(1368 916)"/><path d="M-13 -5L-2 -21L13 5L2 21Z" fill="#a4bf25" opacity=".8" transform="translate(1368 916)"/><path d="M-37 -5L-6 -25L37 5L6 25Z" fill="#cbbc29" opacity="0.45" transform="translate(1311 644)"/><path d="M-25 -5L-4 -17L25 5L4 17Z" fill="#a4bf25" opacity=".8" transform="translate(1311 644)"/><path d="M-15 -4L-2 -31L15 4L2 31Z" fill="#cbbc29" opacity="0.45" transform="translate(1408 680)"/><path d="M-10 -4L-2 -21L10 4L2 21Z" fill="#a4bf25" opacity=".8" transform="translate(1408 680)"/><path d="M-31 -3L-5 -22L31 3L5 22Z" fill="#cbbc29" opacity="0.45" transform="translate(1018 989)"/><path d="M-21 -3L-3 -15L21 3L3 15Z" fill="#a4bf25" opacity=".8" transform="translate(1018 989)"/><path d="M-37 -1L-6 -22L37 1L6 22Z" fill="#cbbc29" opacity="0.45" transform="translate(1010 1127)"/><path d="M-25 -1L-4 -15L25 1L4 15Z" fill="#a4bf25" opacity=".8" transform="translate(1010 1127)"/><path d="M-39 -4L-6 -24L39 4L6 24Z" fill="#ccbc29" opacity="0.45" transform="translate(1035 863) rotate(-50)"/><path d="M-26 -4L-4 -16L26 4L4 16Z" fill="#abbe26" opacity=".8" transform="translate(1035 863) rotate(-50)"/><path d="M-31 3L-5 -19L31 -3L5 19Z" fill="#ccbc29" opacity="0.45" transform="translate(1295 920)"/><path d="M-21 3L-3 -13L21 -3L3 13Z" fill="#abbe26" opacity=".8" transform="translate(1295 920)"/><path d="M-25 2L-4 -37L25 -2L4 37Z" fill="#ccbc29" opacity="0.45" transform="translate(1116 1058)"/><path d="M-17 2L-3 -25L17 -2L3 25Z" fill="#abbe26" opacity=".8" transform="translate(1116 1058)"/><path d="M-46 -3L-7 -24L46 3L7 24Z" fill="#ccbc29" opacity="0.45" transform="translate(1254 1095) rotate(-50)"/><path d="M-32 -3L-5 -16L32 3L5 16Z" fill="#abbe26" opacity=".8" transform="translate(1254 1095) rotate(-50)"/><path d="M-31 -2L-5 -19L31 2L5 19Z" fill="#cbbc29" opacity="0.45" transform="translate(1161 1095)"/><path d="M-21 -2L-3 -13L21 2L3 13Z" fill="#a4bf25" opacity=".8" transform="translate(1161 1095)"/><path d="M-31 -1L-5 -14L31 1L5 14Z" fill="#cbbc29" opacity="0.45" transform="translate(1222 717) rotate(-50)"/><path d="M-21 -1L-3 -10L21 1L3 10Z" fill="#a4bf25" opacity=".8" transform="translate(1222 717) rotate(-50)"/><path d="M-31 -1L-5 -14L31 1L5 14Z" fill="#ccbc29" opacity="0.45" transform="translate(1193 684) rotate(-50)"/><path d="M-21 -1L-3 -10L21 1L3 10Z" fill="#abbe26" opacity=".8" transform="translate(1193 684) rotate(-50)"/><path d="M-31 -3L-5 -19L31 3L5 19Z" fill="#cbbc29" opacity="0.45" transform="translate(1368 1119) rotate(-50)"/><path d="M-21 -3L-3 -13L21 3L3 13Z" fill="#a4bf25" opacity=".8" transform="translate(1368 1119) rotate(-50)"/><path d="M-31 2L-5 -14L31 -2L5 14Z" fill="#ccbc29" opacity="0.45" transform="translate(974 1018) rotate(-50)"/><path d="M-21 2L-3 -10L21 -2L3 10Z" fill="#abbe26" opacity=".8" transform="translate(974 1018) rotate(-50)"/></g>
<g filter="url(#b05)"><path d="M904.5 47.5L903.3 65.0L903.0 82.5L906.1 100.0L903.3 117.5L902.3 135.0L903.8 152.5L904.1 170.0L906.7 187.5L906.6 205.0L904.4 222.5L903.2 240.0L903.5 257.5L906.5 275.0L906.8 292.5L903.5 310.0L905.1 327.5L904.7 345.0L906.1 362.5L904.5 380.0L902.8 397.5L904.5 415.0L906.3 432.5L906.3 450.0L907.7 467.5L906.8 485.0L904.2 502.5L905.4 520.0L904.1 537.5L902.3 555.0L902.5 572.5L905.9 590.0L905.9 607.5L907.5 625.0L907.4 642.5L907.3 660.0L904.0 677.5L905.1 695.0L904.8 712.5L906.6 730.0L904.2 747.5L906.6 765.0L907.5 782.5L905.5 800.0L905.8 817.5L905.0 835.0L905.7 852.5L907.1 870.0L904.9 887.5L906.4 905.0L903.3 922.5L904.5 940.0L904.2 957.5L904.7 975.0L906.8 992.5L907.8 1010.0L904.6 1027.5L903.6 1045.0L903.6 1062.5L906.0 1080.0L906.9 1097.5L906.7 1115.0L903.3 1132.5L901.9 1150.0L903.5 1167.5L904.3 1185.0L952.3 1185.0L954.0 1167.5L953.3 1150.0L954.5 1132.5L953.3 1115.0L954.5 1097.5L953.2 1080.0L954.6 1062.5L954.1 1045.0L951.3 1027.5L953.5 1010.0L954.6 992.5L952.7 975.0L953.5 957.5L951.2 940.0L952.1 922.5L951.2 905.0L953.9 887.5L950.5 870.0L951.4 852.5L953.1 835.0L955.6 817.5L954.9 800.0L953.3 782.5L955.8 765.0L955.1 747.5L954.5 730.0L954.2 712.5L953.3 695.0L955.5 677.5L954.4 660.0L954.0 642.5L951.0 625.0L953.6 607.5L954.0 590.0L952.8 572.5L949.5 555.0L950.5 537.5L952.4 520.0L952.3 502.5L952.0 485.0L953.2 467.5L952.0 450.0L950.1 432.5L951.4 415.0L953.3 397.5L956.1 380.0L955.6 362.5L954.7 345.0L955.3 327.5L953.9 310.0L951.6 292.5L953.2 275.0L950.0 257.5L950.6 240.0L951.7 222.5L953.9 205.0L951.2 187.5L952.2 170.0L951.0 152.5L951.4 135.0L953.9 117.5L953.8 100.0L955.7 82.5L955.0 65.0L953.5 47.5Z" fill="#b9be26" opacity=".75"/><path d="M907.0 47.5L906.0 65.0L905.8 82.5L908.4 100.0L906.1 117.5L905.2 135.0L906.4 152.5L906.7 170.0L908.9 187.5L908.8 205.0L906.9 222.5L906.0 240.0L906.2 257.5L908.7 275.0L909.0 292.5L906.2 310.0L907.6 327.5L907.3 345.0L908.4 362.5L907.0 380.0L905.7 397.5L907.1 415.0L908.5 432.5L908.6 450.0L909.7 467.5L909.0 485.0L906.8 502.5L907.8 520.0L906.7 537.5L905.2 555.0L905.4 572.5L908.2 590.0L908.2 607.5L909.5 625.0L909.5 642.5L909.4 660.0L906.6 677.5L907.5 695.0L907.3 712.5L908.8 730.0L906.8 747.5L908.8 765.0L909.5 782.5L907.8 800.0L908.1 817.5L907.5 835.0L908.1 852.5L909.2 870.0L907.4 887.5L908.6 905.0L906.0 922.5L907.1 940.0L906.8 957.5L907.2 975.0L908.9 992.5L909.8 1010.0L907.1 1027.5L906.3 1045.0L906.3 1062.5L908.3 1080.0L909.1 1097.5L908.9 1115.0L906.1 1132.5L904.9 1150.0L906.2 1167.5L906.9 1185.0L949.9 1185.0L951.3 1167.5L950.7 1150.0L951.7 1132.5L950.7 1115.0L951.7 1097.5L950.6 1080.0L951.8 1062.5L951.4 1045.0L949.1 1027.5L950.8 1010.0L951.7 992.5L950.2 975.0L950.8 957.5L949.0 940.0L949.7 922.5L948.9 905.0L951.2 887.5L948.3 870.0L949.1 852.5L950.5 835.0L952.6 817.5L952.0 800.0L950.7 782.5L952.8 765.0L952.2 747.5L951.7 730.0L951.4 712.5L950.6 695.0L952.5 677.5L951.6 660.0L951.3 642.5L948.8 625.0L951.0 607.5L951.3 590.0L950.3 572.5L947.5 555.0L948.4 537.5L949.9 520.0L949.8 502.5L949.6 485.0L950.6 467.5L949.6 450.0L948.0 432.5L949.1 415.0L950.7 397.5L953.0 380.0L952.6 362.5L951.8 345.0L952.4 327.5L951.2 310.0L949.3 292.5L950.6 275.0L947.9 257.5L948.4 240.0L949.3 222.5L951.2 205.0L948.9 187.5L949.8 170.0L948.7 152.5L949.1 135.0L951.2 117.5L951.1 100.0L952.6 82.5L952.1 65.0L950.8 47.5Z" fill="#4bbd1e"/><path d="M912.6 47.5L911.9 65.0L911.7 82.5L913.5 100.0L911.9 117.5L911.3 135.0L912.2 152.5L912.3 170.0L913.8 187.5L913.8 205.0L912.5 222.5L911.8 240.0L912.0 257.5L913.7 275.0L913.9 292.5L912.0 310.0L912.9 327.5L912.7 345.0L913.5 362.5L912.6 380.0L911.6 397.5L912.6 415.0L913.6 432.5L913.6 450.0L914.5 467.5L913.9 485.0L912.4 502.5L913.1 520.0L912.3 537.5L911.3 555.0L911.4 572.5L913.4 590.0L913.4 607.5L914.3 625.0L914.3 642.5L914.2 660.0L912.3 677.5L912.9 695.0L912.7 712.5L913.8 730.0L912.4 747.5L913.8 765.0L914.3 782.5L913.1 800.0L913.3 817.5L912.9 835.0L913.3 852.5L914.1 870.0L912.8 887.5L913.7 905.0L911.9 922.5L912.6 940.0L912.4 957.5L912.7 975.0L913.9 992.5L914.5 1010.0L912.6 1027.5L912.1 1045.0L912.1 1062.5L913.5 1080.0L914.0 1097.5L913.8 1115.0L911.9 1132.5L911.1 1150.0L912.0 1167.5L912.5 1185.0L944.5 1185.0L945.5 1167.5L945.1 1150.0L945.8 1132.5L945.0 1115.0L945.8 1097.5L945.0 1080.0L945.8 1062.5L945.5 1045.0L943.9 1027.5L945.2 1010.0L945.8 992.5L944.7 975.0L945.2 957.5L943.8 940.0L944.4 922.5L943.8 905.0L945.4 887.5L943.4 870.0L943.9 852.5L945.0 835.0L946.4 817.5L946.0 800.0L945.1 782.5L946.5 765.0L946.1 747.5L945.7 730.0L945.6 712.5L945.0 695.0L946.3 677.5L945.7 660.0L945.5 642.5L943.7 625.0L945.3 607.5L945.5 590.0L944.8 572.5L942.9 555.0L943.4 537.5L944.5 520.0L944.5 502.5L944.3 485.0L945.0 467.5L944.3 450.0L943.2 432.5L944.0 415.0L945.0 397.5L946.7 380.0L946.4 362.5L945.9 345.0L946.2 327.5L945.4 310.0L944.1 292.5L945.0 275.0L943.1 257.5L943.5 240.0L944.1 222.5L945.4 205.0L943.8 187.5L944.4 170.0L943.7 152.5L944.0 135.0L945.4 117.5L945.4 100.0L946.4 82.5L946.1 65.0L945.2 47.5Z" fill="#10c47a"/><path d="M913.9 47.5L913.3 65.0L913.2 82.5L914.8 100.0L913.4 117.5L912.8 135.0L913.6 152.5L913.8 170.0L915.0 187.5L915.0 205.0L913.9 222.5L913.3 240.0L913.5 257.5L914.9 275.0L915.1 292.5L913.4 310.0L914.3 327.5L914.1 345.0L914.7 362.5L913.9 380.0L913.1 397.5L914.0 415.0L914.8 432.5L914.9 450.0L915.6 467.5L915.1 485.0L913.8 502.5L914.4 520.0L913.7 537.5L912.8 555.0L912.9 572.5L914.7 590.0L914.6 607.5L915.4 625.0L915.4 642.5L915.4 660.0L913.7 677.5L914.2 695.0L914.1 712.5L915.0 730.0L913.8 747.5L915.0 765.0L915.4 782.5L914.4 800.0L914.6 817.5L914.2 835.0L914.6 852.5L915.2 870.0L914.2 887.5L914.9 905.0L913.3 922.5L914.0 940.0L913.8 957.5L914.1 975.0L915.1 992.5L915.6 1010.0L914.0 1027.5L913.5 1045.0L913.5 1062.5L914.7 1080.0L915.2 1097.5L915.0 1115.0L913.4 1132.5L912.7 1150.0L913.5 1167.5L913.8 1185.0L943.2 1185.0L944.0 1167.5L943.6 1150.0L944.3 1132.5L943.6 1115.0L944.2 1097.5L943.6 1080.0L944.3 1062.5L944.1 1045.0L942.7 1027.5L943.7 1010.0L944.3 992.5L943.3 975.0L943.7 957.5L942.6 940.0L943.1 922.5L942.6 905.0L944.0 887.5L942.2 870.0L942.7 852.5L943.6 835.0L944.8 817.5L944.4 800.0L943.7 782.5L944.9 765.0L944.6 747.5L944.2 730.0L944.1 712.5L943.6 695.0L944.7 677.5L944.2 660.0L944.0 642.5L942.5 625.0L943.8 607.5L944.0 590.0L943.4 572.5L941.8 555.0L942.3 537.5L943.2 520.0L943.1 502.5L943.0 485.0L943.6 467.5L943.0 450.0L942.1 432.5L942.7 415.0L943.6 397.5L945.0 380.0L944.8 362.5L944.3 345.0L944.7 327.5L943.9 310.0L942.8 292.5L943.6 275.0L942.0 257.5L942.3 240.0L942.8 222.5L943.9 205.0L942.6 187.5L943.1 170.0L942.5 152.5L942.7 135.0L943.9 117.5L943.9 100.0L944.8 82.5L944.5 65.0L943.7 47.5Z" fill="#12acd0"/></g>
<rect x="915.2" y="52.5" width="27" height="1123.0" fill="url(#st)" filter="url(#b05)"/>
<g filter="url(#b1)"><path d="M928.7 75L931.3000000000001 101L928.7 127L926.1 101Z" fill="#3f2eb0"/><path d="M928.7 149L933.7 171L928.7 193L923.7 171Z" fill="#3f2eb0"/><path d="M928.7 210L931.7 240L928.7 270L925.7 240Z" fill="#3f2eb0"/><path d="M928.7 329L933.2 349L928.7 369L924.2 349Z" fill="#3f2eb0"/><path d="M928.7 465L931.2 500L928.7 535L926.2 500Z" fill="#3f2eb0"/><path d="M928.7 610L931.2 650L928.7 690L926.2 650Z" fill="#3f2eb0"/><path d="M928.7 719L933.7 741L928.7 763L923.7 741Z" fill="#3f2eb0"/><path d="M928.7 784L932.7 806L928.7 828L924.7 806Z" fill="#3f2eb0"/><path d="M928.7 870L931.2 900L928.7 930L926.2 900Z" fill="#3f2eb0"/><path d="M928.7 967L933.7 989L928.7 1011L923.7 989Z" fill="#3f2eb0"/><path d="M928.7 1071L932.2 1099L928.7 1127L925.2 1099Z" fill="#3f2eb0"/></g>
<g filter="url(#b2)"><rect x="906" y="521" width="44" height="36" fill="#fdb83c"/><path d="M934 513L951 511L951 521L930 521Z" fill="#6abd1f"/><path d="M941 512L953 509L953 520Z" fill="#f4b738"/><path d="M907 522H938L924 530L907 533Z" fill="#5ebd1f"/><path d="M912 522H930L920 526Z" fill="#0cb0c8"/><path d="M914 558L928 546L950 541V558Z" fill="#6abd1f"/><path d="M919 560L930 548L945 546V560Z" fill="#17a9d0"/><path d="M945 545H951V558H946Z" fill="#87be22"/><path d="M907 550L924 538L938 528L950 526" stroke="#f8d626" stroke-width="7.5" fill="none" stroke-linecap="round"/></g><path d="M914 544L926 536L940 528" stroke="#f8f612" stroke-width="3.6" fill="none" stroke-linecap="round" filter="url(#b2)"/>
</g>
<rect x="974" y="230.8" width="59.0" height="79.8" fill="none" stroke="#000" stroke-width="1.45"/>
<path d="M1006.7 278.7L1117.7 358.8" stroke="#000" stroke-width="1.4" fill="none"/>
<path d="M0 0L-47 -15.4L-31.5 0L-47 15.4Z" transform="translate(1140.4 375.2) rotate(35.8)"/>
<rect x="904.2" y="520.6" width="47.4" height="37.0" fill="none" stroke="#000" stroke-width="1.45"/>
<path d="M912.6 542.0L780.5 610.0" stroke="#000" stroke-width="1.4" fill="none"/>
<path d="M0 0L-47 -15.4L-31.5 0L-47 15.4Z" transform="translate(755.6 622.8) rotate(152.8)"/>
<rect x="996.4" y="641" width="36.6" height="56.5" fill="none" stroke="#000" stroke-width="1.45"/>
<path d="M1019.8 678.1L1121.9 754.8" stroke="#000" stroke-width="1.4" fill="none"/>
<path d="M0 0L-47 -15.4L-31.5 0L-47 15.4Z" transform="translate(1144.3 771.6) rotate(36.9)"/>
<text class="n" x="1064.5" y="425.7">No target</text>
<text class="n" x="571.5" y="687.8">Strong target</text>
<text class="n" x="1064.5" y="825.0">No target</text>
<text class="t" x="207" y="73.3" text-anchor="end">2000</text>
<text class="t" x="207" y="215.5" text-anchor="end">1500</text>
<text class="t" x="207" y="357.7" text-anchor="end">1000</text>
<text class="t" x="207" y="499.9" text-anchor="end">500</text>
<text class="t" x="207" y="642.1" text-anchor="end">0</text>
<text class="t" x="207" y="784.3" text-anchor="end">-500</text>
<text class="t" x="207" y="926.5" text-anchor="end">-1000</text>
<text class="t" x="207" y="1068.7" text-anchor="end">-1500</text>
<text class="t" x="280.7" y="1230.1" text-anchor="middle">96</text>
<text class="t" x="442.7" y="1230.1" text-anchor="middle">97</text>
<text class="t" x="604.7" y="1230.1" text-anchor="middle">98</text>
<text class="t" x="766.7" y="1230.1" text-anchor="middle">99</text>
<text class="t" x="930.9" y="1230.1" text-anchor="middle">100</text>
<text class="t" x="1091.3" y="1230.1" text-anchor="middle">101</text>
<text class="t" x="1253.3" y="1230.1" text-anchor="middle">102</text>
<text class="t" x="1415.3" y="1230.1" text-anchor="middle">103</text>
<text class="l" x="819.5" y="1295.1" text-anchor="middle">Range(km)</text>
<text class="l" transform="translate(69.2 614.5) rotate(-90)" text-anchor="middle">Velocity(m/s)</text>
<rect x="1537.5" y="57.5" width="68" height="1113.0" fill="url(#cb)"/>
<rect x="1538.25" y="58.25" width="66.5" height="1111.5" fill="none" stroke="#262626" stroke-width="1.7"/>
<text class="c" x="1622.3" y="72.0">0</text>
<path d="M1593.5 169.4H1605" stroke="#262626" stroke-width="1.7"/>
<text class="c" x="1622.3" y="183.3">-10</text>
<path d="M1593.5 280.7H1605" stroke="#262626" stroke-width="1.7"/>
<text class="c" x="1622.3" y="294.6">-20</text>
<path d="M1593.5 392.0H1605" stroke="#262626" stroke-width="1.7"/>
<text class="c" x="1622.3" y="405.9">-30</text>
<path d="M1593.5 503.3H1605" stroke="#262626" stroke-width="1.7"/>
<text class="c" x="1622.3" y="517.2">-40</text>
<path d="M1593.5 614.6H1605" stroke="#262626" stroke-width="1.7"/>
<text class="c" x="1622.3" y="628.5">-50</text>
<path d="M1593.5 725.9H1605" stroke="#262626" stroke-width="1.7"/>
<text class="c" x="1622.3" y="739.8">-60</text>
<path d="M1593.5 837.2H1605" stroke="#262626" stroke-width="1.7"/>
<text class="c" x="1622.3" y="851.1">-70</text>
<path d="M1593.5 948.5H1605" stroke="#262626" stroke-width="1.7"/>
<text class="c" x="1622.3" y="962.4">-80</text>
<path d="M1593.5 1059.8H1605" stroke="#262626" stroke-width="1.7"/>
<text class="c" x="1622.3" y="1073.7">-90</text>
<text class="c" x="1622.3" y="1185.0">-100</text>
<g clip-path="url(#cpb)">
<rect x="225.0" y="1556.0" width="1189.0" height="1113.0" fill="#ecb735"/>
<g transform="rotate(-52 819.5 2112.5)"><rect x="-80.5" y="1212.5" width="1800" height="1800" filter="url(#nb)"/></g>
<g filter="url(#by)" opacity=".95"><ellipse cx="538" cy="1784" rx="14" ry="9" fill="#fad02a" transform="rotate(-50 538 1784)"/><ellipse cx="302" cy="1710" rx="9" ry="17" fill="#fbcd2c"/><ellipse cx="566" cy="1910" rx="11" ry="28" fill="#fbcd2c"/><ellipse cx="355" cy="1954" rx="14" ry="26" fill="#fcc92f"/><ellipse cx="501" cy="1649" rx="14" ry="9" fill="#fbcd2c"/><ellipse cx="493" cy="1694" rx="14" ry="7" fill="#fbcd2c" transform="rotate(-50 493 1694)"/><ellipse cx="733" cy="1751" rx="17" ry="11" fill="#fcc92f"/><ellipse cx="692" cy="1645" rx="14" ry="23" fill="#fcc92f"/><ellipse cx="339" cy="1849" rx="9" ry="20" fill="#fcc92f"/><ellipse cx="379" cy="2084" rx="21" ry="11" fill="#fcc92f" transform="rotate(-50 379 2084)"/><ellipse cx="591" cy="2036" rx="11" ry="7" fill="#fbcd2c" transform="rotate(-50 591 2036)"/><ellipse cx="753" cy="1820" rx="21" ry="14" fill="#fdc532" transform="rotate(-50 753 1820)"/><ellipse cx="510" cy="2072" rx="18" ry="9" fill="#fcc92f" transform="rotate(-50 510 2072)"/><ellipse cx="762" cy="1641" rx="11" ry="7" fill="#fbcd2c" transform="rotate(-50 762 1641)"/><ellipse cx="445" cy="1914" rx="9" ry="14" fill="#fcc92f"/><ellipse cx="632" cy="1719" rx="17" ry="11" fill="#fdc532"/><ellipse cx="436" cy="1609" rx="9" ry="14" fill="#fcc92f"/><ellipse cx="786" cy="1963" rx="21" ry="11" fill="#fdc532" transform="rotate(-50 786 1963)"/><ellipse cx="839" cy="1617" rx="18" ry="9" fill="#fad02a" transform="rotate(-50 839 1617)"/><ellipse cx="868" cy="1788" rx="18" ry="9" fill="#f8d825" transform="rotate(-50 868 1788)"/><ellipse cx="1079" cy="1755" rx="14" ry="9" fill="#f9d427"/><ellipse cx="1035" cy="1605" rx="14" ry="9" fill="#fad02a" transform="rotate(-50 1035 1605)"/><ellipse cx="1002" cy="1706" rx="11" ry="8" fill="#fad02a"/><ellipse cx="1173" cy="1629" rx="11" ry="7" fill="#fad02a" transform="rotate(-50 1173 1629)"/><ellipse cx="884" cy="1963" rx="11" ry="17" fill="#fbcd2c"/><ellipse cx="1140" cy="1999" rx="14" ry="9" fill="#fbcd2c"/><ellipse cx="1343" cy="1698" rx="21" ry="11" fill="#fcc92f" transform="rotate(-50 1343 1698)"/><ellipse cx="1242" cy="1800" rx="21" ry="11" fill="#fcc92f" transform="rotate(-50 1242 1800)"/><ellipse cx="1075" cy="1670" rx="17" ry="11" fill="#fcc92f"/><ellipse cx="1262" cy="1589" rx="18" ry="9" fill="#fcc92f" transform="rotate(-50 1262 1589)"/><ellipse cx="1262" cy="2032" rx="14" ry="9" fill="#fbcd2c" transform="rotate(-50 1262 2032)"/><ellipse cx="1343" cy="2044" rx="18" ry="11" fill="#fcc92f" transform="rotate(-50 1343 2044)"/><ellipse cx="839" cy="1698" rx="21" ry="11" fill="#fcc92f" transform="rotate(-50 839 1698)"/><ellipse cx="998" cy="2064" rx="21" ry="11" fill="#fcc92f" transform="rotate(-50 998 2064)"/><ellipse cx="1205" cy="1739" rx="18" ry="9" fill="#fcc92f" transform="rotate(-50 1205 1739)"/><ellipse cx="392" cy="2126" rx="14" ry="9" fill="#fad02a" transform="rotate(-50 392 2126)"/><ellipse cx="420" cy="2273" rx="18" ry="9" fill="#fad02a" transform="rotate(-50 420 2273)"/><ellipse cx="449" cy="2370" rx="14" ry="7" fill="#fad02a" transform="rotate(-50 449 2370)"/><ellipse cx="786" cy="2309" rx="14" ry="7" fill="#fad02a" transform="rotate(-50 786 2309)"/><ellipse cx="688" cy="2439" rx="14" ry="7" fill="#fbcd2c" transform="rotate(-50 688 2439)"/><ellipse cx="477" cy="2521" rx="18" ry="9" fill="#fbcd2c" transform="rotate(-50 477 2521)"/><ellipse cx="323" cy="2464" rx="18" ry="11" fill="#fcc92f" transform="rotate(-50 323 2464)"/><ellipse cx="607" cy="2464" rx="18" ry="11" fill="#fcc92f" transform="rotate(-50 607 2464)"/><ellipse cx="571" cy="2342" rx="9" ry="14" fill="#fcc92f"/><ellipse cx="615" cy="2248" rx="18" ry="9" fill="#fcc92f" transform="rotate(-50 615 2248)"/><ellipse cx="249" cy="2354" rx="17" ry="11" fill="#fcc92f"/><ellipse cx="266" cy="2577" rx="21" ry="11" fill="#fcc92f" transform="rotate(-50 266 2577)"/><ellipse cx="733" cy="2577" rx="21" ry="11" fill="#fcc92f" transform="rotate(-50 733 2577)"/><ellipse cx="806" cy="2557" rx="11" ry="17" fill="#fbcd2c"/><ellipse cx="278" cy="2240" rx="9" ry="17" fill="#fcc92f"/><ellipse cx="753" cy="2212" rx="14" ry="7" fill="#fcc92f" transform="rotate(-50 753 2212)"/><ellipse cx="802" cy="2435" rx="18" ry="11" fill="#fcc92f" transform="rotate(-50 802 2435)"/><ellipse cx="632" cy="2618" rx="18" ry="11" fill="#fcc92f" transform="rotate(-50 632 2618)"/><ellipse cx="990" cy="2281" rx="14" ry="10" fill="#f8d825"/><ellipse cx="1026" cy="2439" rx="11" ry="17" fill="#fad02a"/><ellipse cx="1075" cy="2403" rx="17" ry="11" fill="#fad02a"/><ellipse cx="1006" cy="2370" rx="14" ry="9" fill="#fbcd2c" transform="rotate(-50 1006 2370)"/><ellipse cx="1030" cy="2325" rx="14" ry="7" fill="#fbcd2c" transform="rotate(-50 1030 2325)"/><ellipse cx="961" cy="2199" rx="9" ry="14" fill="#fbcd2c"/><ellipse cx="1315" cy="2281" rx="18" ry="9" fill="#fbcd2c" transform="rotate(-50 1315 2281)"/><ellipse cx="856" cy="2358" rx="17" ry="9" fill="#fad02a"/><ellipse cx="1222" cy="2232" rx="21" ry="11" fill="#fcc92f" transform="rotate(-50 1222 2232)"/><ellipse cx="1140" cy="2362" rx="20" ry="14" fill="#fcc92f"/><ellipse cx="1222" cy="2496" rx="18" ry="11" fill="#fcc92f" transform="rotate(-50 1222 2496)"/><ellipse cx="1181" cy="2626" rx="21" ry="11" fill="#fcc92f" transform="rotate(-50 1181 2626)"/><ellipse cx="1364" cy="2362" rx="18" ry="11" fill="#fcc92f" transform="rotate(-50 1364 2362)"/><ellipse cx="1100" cy="2537" rx="18" ry="11" fill="#fcc92f" transform="rotate(-50 1100 2537)"/><ellipse cx="990" cy="2557" rx="18" ry="9" fill="#fcc92f" transform="rotate(-50 990 2557)"/><ellipse cx="884" cy="2212" rx="14" ry="7" fill="#fcc92f" transform="rotate(-50 884 2212)"/><ellipse cx="839" cy="2407" rx="14" ry="9" fill="#fbcd2c" transform="rotate(-50 839 2407)"/><ellipse cx="1384" cy="2557" rx="21" ry="11" fill="#fcc92f" transform="rotate(-50 1384 2557)"/><ellipse cx="1364" cy="2134" rx="18" ry="11" fill="#fcc92f" transform="rotate(-50 1364 2134)"/></g>
<g filter="url(#bg)"><path d="M-54 -3L-8 -29L54 3L8 29Z" fill="#b9be26" opacity="0.6" transform="translate(253 1751) rotate(-50)"/><path d="M-37 -3L-6 -20L37 3L6 20Z" fill="#64bd1f" transform="translate(253 1751) rotate(-50)"/><path d="M-25 2L-4 -34L25 -2L4 34Z" fill="#b1be26" opacity="0.6" transform="translate(615 1897)"/><path d="M-17 2L-3 -23L17 -2L3 23Z" fill="#4bbd1e" transform="translate(615 1897)"/><path d="M-31 1L-5 -22L31 -1L5 22Z" fill="#b1be26" opacity="0.6" transform="translate(713 1940)"/><path d="M-21 1L-3 -15L21 -1L3 15Z" fill="#4bbd1e" transform="translate(713 1940)"/><path d="M-35 2L-5 -19L35 -2L5 19Z" fill="#acbe26" opacity="0.6" transform="translate(445 2076) rotate(-50)"/><path d="M-24 2L-4 -13L24 -2L4 13Z" fill="#3cbe1f" transform="translate(445 2076) rotate(-50)"/><path d="M-39 -2L-6 -19L39 2L6 19Z" fill="#b9be26" opacity="0.6" transform="translate(664 2056) rotate(-50)"/><path d="M-26 -2L-4 -13L26 2L4 13Z" fill="#64bd1f" transform="translate(664 2056) rotate(-50)"/><path d="M-43 -3L-6 -31L43 3L6 31Z" fill="#bfbd27" opacity="0.6" transform="translate(749 2028)"/><path d="M-30 -3L-4 -21L30 3L4 21Z" fill="#76bd20" transform="translate(749 2028)"/><path d="M-31 -3L-5 -19L31 3L5 19Z" fill="#bdbd27" opacity="0.6" transform="translate(274 1804) rotate(-50)"/><path d="M-21 -3L-3 -13L21 3L3 13Z" fill="#70bd20" transform="translate(274 1804) rotate(-50)"/><path d="M-19 -5L-3 -49L19 5L3 49Z" fill="#bdbd27" opacity="0.6" transform="translate(229 1906)"/><path d="M-13 -5L-2 -34L13 5L2 34Z" fill="#70bd20" transform="translate(229 1906)"/><path d="M-46 2L-7 -24L46 -2L7 24Z" fill="#c3bd28" opacity="0.45" transform="translate(294 1643) rotate(-50)"/><path d="M-32 2L-5 -16L32 -2L5 16Z" fill="#8dbe23" opacity=".8" transform="translate(294 1643) rotate(-50)"/><path d="M-46 -3L-7 -24L46 3L7 24Z" fill="#c1bd27" opacity="0.6" transform="translate(465 1641) rotate(-50)"/><path d="M-32 -3L-5 -16L32 3L5 16Z" fill="#7bbe21" transform="translate(465 1641) rotate(-50)"/><path d="M-43 0L-6 -22L43 -0L6 22Z" fill="#bfbd27" opacity="0.6" transform="translate(595 1647)"/><path d="M-30 0L-4 -15L30 -0L4 15Z" fill="#76bd20" transform="translate(595 1647)"/><path d="M-37 -6L-6 -56L37 6L6 56Z" fill="#c9bc28" opacity="0.45" transform="translate(375 1609)"/><path d="M-25 -6L-4 -38L25 6L4 38Z" fill="#9ebf24" opacity=".8" transform="translate(375 1609)"/><path d="M-31 -1L-5 -19L31 1L5 19Z" fill="#c5bc28" opacity="0.45" transform="translate(522 1601)"/><path d="M-21 -1L-3 -13L21 1L3 13Z" fill="#93be23" opacity=".8" transform="translate(522 1601)"/><path d="M-43 -1L-6 -25L43 1L6 25Z" fill="#c3bd28" opacity="0.45" transform="translate(363 1767)"/><path d="M-30 -1L-4 -17L30 1L4 17Z" fill="#8dbe23" opacity=".8" transform="translate(363 1767)"/><path d="M-39 2L-6 -19L39 -2L6 19Z" fill="#c3bd28" opacity="0.45" transform="translate(493 1776) rotate(-50)"/><path d="M-26 2L-4 -13L26 -2L4 13Z" fill="#8dbe23" opacity=".8" transform="translate(493 1776) rotate(-50)"/><path d="M-35 1L-5 -19L35 -1L5 19Z" fill="#c3bd28" opacity="0.45" transform="translate(686 1784) rotate(-50)"/><path d="M-24 1L-4 -13L24 -1L4 13Z" fill="#8dbe23" opacity=".8" transform="translate(686 1784) rotate(-50)"/><path d="M-43 -4L-6 -25L43 4L6 25Z" fill="#c5bc28" opacity="0.45" transform="translate(428 1871)"/><path d="M-30 -4L-4 -17L30 4L4 17Z" fill="#93be23" opacity=".8" transform="translate(428 1871)"/><path d="M-31 -1L-5 -14L31 1L5 14Z" fill="#c7bc28" opacity="0.45" transform="translate(538 1828) rotate(-50)"/><path d="M-21 -1L-3 -10L21 1L3 10Z" fill="#98bf24" opacity=".8" transform="translate(538 1828) rotate(-50)"/><path d="M-37 -3L-6 -25L37 3L6 25Z" fill="#c1bd27" opacity="0.6" transform="translate(615 1963)"/><path d="M-25 -3L-4 -17L25 3L4 17Z" fill="#7bbe21" transform="translate(615 1963)"/><path d="M-46 3L-7 -24L46 -3L7 24Z" fill="#c9bc28" opacity="0.45" transform="translate(404 1922) rotate(-50)"/><path d="M-32 3L-5 -16L32 -3L5 16Z" fill="#9ebf24" opacity=".8" transform="translate(404 1922) rotate(-50)"/><path d="M-31 2L-5 -19L31 -2L5 19Z" fill="#c9bc28" opacity="0.45" transform="translate(249 1853) rotate(-50)"/><path d="M-21 2L-3 -13L21 -2L3 13Z" fill="#9ebf24" opacity=".8" transform="translate(249 1853) rotate(-50)"/><path d="M-39 2L-6 -19L39 -2L6 19Z" fill="#c7bc28" opacity="0.45" transform="translate(343 2011) rotate(-50)"/><path d="M-26 2L-4 -13L26 -2L4 13Z" fill="#98bf24" opacity=".8" transform="translate(343 2011) rotate(-50)"/><path d="M-39 2L-6 -19L39 -2L6 19Z" fill="#c5bc28" opacity="0.45" transform="translate(562 2032) rotate(-50)"/><path d="M-26 2L-4 -13L26 -2L4 13Z" fill="#93be23" opacity=".8" transform="translate(562 2032) rotate(-50)"/><path d="M-39 2L-6 -19L39 -2L6 19Z" fill="#c9bc28" opacity="0.45" transform="translate(786 1763) rotate(-50)"/><path d="M-26 2L-4 -13L26 -2L4 13Z" fill="#9ebf24" opacity=".8" transform="translate(786 1763) rotate(-50)"/><path d="M-31 3L-5 -19L31 -3L5 19Z" fill="#c9bc28" opacity="0.45" transform="translate(810 1828) rotate(-50)"/><path d="M-21 3L-3 -13L21 -3L3 13Z" fill="#9ebf24" opacity=".8" transform="translate(810 1828) rotate(-50)"/><path d="M-31 2L-5 -15L31 -2L5 15Z" fill="#c7bc28" opacity="0.45" transform="translate(371 1690)"/><path d="M-21 2L-3 -11L21 -2L3 11Z" fill="#98bf24" opacity=".8" transform="translate(371 1690)"/><path d="M-37 -1L-6 -15L37 1L6 15Z" fill="#c1bd27" opacity="0.6" transform="translate(575 1560)"/><path d="M-25 -1L-4 -10L25 1L4 10Z" fill="#7bbe21" transform="translate(575 1560)"/><path d="M-25 2L-4 -15L25 -2L4 15Z" fill="#c5bc28" opacity="0.45" transform="translate(420 1562)"/><path d="M-17 2L-3 -10L17 -2L3 10Z" fill="#93be23" opacity=".8" transform="translate(420 1562)"/><path d="M-39 -0L-6 -19L39 0L6 19Z" fill="#cbbc29" opacity="0.45" transform="translate(591 1739) rotate(-50)"/><path d="M-26 -0L-4 -13L26 0L4 13Z" fill="#a4bf25" opacity=".8" transform="translate(591 1739) rotate(-50)"/><path d="M-37 2L-6 -25L37 -2L6 25Z" fill="#cbbc29" opacity="0.45" transform="translate(396 1832)"/><path d="M-25 2L-4 -17L25 -2L4 17Z" fill="#a4bf25" opacity=".8" transform="translate(396 1832)"/><path d="M-39 1L-6 -24L39 -1L6 24Z" fill="#c9bc28" opacity="0.45" transform="translate(550 2080) rotate(-50)"/><path d="M-26 1L-4 -16L26 -1L4 16Z" fill="#9ebf24" opacity=".8" transform="translate(550 2080) rotate(-50)"/><path d="M-31 -1L-5 -19L31 1L5 19Z" fill="#c7bc28" opacity="0.45" transform="translate(810 2032) rotate(-50)"/><path d="M-21 -1L-3 -13L21 1L3 13Z" fill="#98bf24" opacity=".8" transform="translate(810 2032) rotate(-50)"/><path d="M-31 -1L-5 -19L31 1L5 19Z" fill="#ccbc29" opacity="0.45" transform="translate(745 1597)"/><path d="M-21 -1L-3 -13L21 1L3 13Z" fill="#abbe26" opacity=".8" transform="translate(745 1597)"/><path d="M-39 -1L-6 -24L39 1L6 24Z" fill="#cbbc29" opacity="0.45" transform="translate(245 2076) rotate(-50)"/><path d="M-26 -1L-4 -16L26 1L4 16Z" fill="#a4bf25" opacity=".8" transform="translate(245 2076) rotate(-50)"/><path d="M-31 -1L-5 -19L31 1L5 19Z" fill="#cbbc29" opacity="0.45" transform="translate(692 2003) rotate(-50)"/><path d="M-21 -1L-3 -13L21 1L3 13Z" fill="#a4bf25" opacity=".8" transform="translate(692 2003) rotate(-50)"/><path d="M-23 -2L-3 -14L23 2L3 14Z" fill="#cbbc29" opacity="0.45" transform="translate(323 1828) rotate(-50)"/><path d="M-16 -2L-2 -10L16 2L2 10Z" fill="#a4bf25" opacity=".8" transform="translate(323 1828) rotate(-50)"/><path d="M-39 2L-6 -19L39 -2L6 19Z" fill="#cbbc29" opacity="0.45" transform="translate(672 1889) rotate(-50)"/><path d="M-26 2L-4 -13L26 -2L4 13Z" fill="#a4bf25" opacity=".8" transform="translate(672 1889) rotate(-50)"/><path d="M-25 4L-4 -37L25 -4L4 37Z" fill="#ccbc29" opacity="0.45" transform="translate(489 1983)"/><path d="M-17 4L-3 -25L17 -4L3 25Z" fill="#abbe26" opacity=".8" transform="translate(489 1983)"/><path d="M-25 7L-4 -37L25 -7L4 37Z" fill="#ccbc29" opacity="0.45" transform="translate(294 2036)"/><path d="M-17 7L-3 -25L17 -7L3 25Z" fill="#abbe26" opacity=".8" transform="translate(294 2036)"/><path d="M-31 1L-5 -14L31 -1L5 14Z" fill="#ccbc29" opacity="0.45" transform="translate(664 1621) rotate(-50)"/><path d="M-21 1L-3 -10L21 -1L3 10Z" fill="#abbe26" opacity=".8" transform="translate(664 1621) rotate(-50)"/><path d="M-37 1L-6 -28L37 -1L6 28Z" fill="#b9be26" opacity="0.6" transform="translate(1368 1804)"/><path d="M-25 1L-4 -19L25 -1L4 19Z" fill="#64bd1f" transform="translate(1368 1804)"/><path d="M-54 3L-8 -34L54 -3L8 34Z" fill="#c1bd27" opacity="0.6" transform="translate(1177 1869) rotate(-50)"/><path d="M-37 3L-6 -23L37 -3L6 23Z" fill="#7bbe21" transform="translate(1177 1869) rotate(-50)"/><path d="M-39 -3L-6 -19L39 3L6 19Z" fill="#bfbd27" opacity="0.6" transform="translate(1270 1849) rotate(-50)"/><path d="M-26 -3L-4 -13L26 3L4 13Z" fill="#76bd20" transform="translate(1270 1849) rotate(-50)"/><path d="M-39 1L-6 -19L39 -1L6 19Z" fill="#bdbd27" opacity="0.6" transform="translate(1144 1940) rotate(-50)"/><path d="M-26 1L-4 -13L26 -1L4 13Z" fill="#70bd20" transform="translate(1144 1940) rotate(-50)"/><path d="M-46 -1L-7 -24L46 1L7 24Z" fill="#c1bd27" opacity="0.6" transform="translate(1339 1869) rotate(-50)"/><path d="M-32 -1L-5 -16L32 1L5 16Z" fill="#7bbe21" transform="translate(1339 1869) rotate(-50)"/><path d="M-43 -4L-6 -31L43 4L6 31Z" fill="#bdbd27" opacity="0.6" transform="translate(1181 2003)"/><path d="M-30 -4L-4 -21L30 4L4 21Z" fill="#70bd20" transform="translate(1181 2003)"/><path d="M-46 -3L-7 -24L46 3L7 24Z" fill="#c3bd28" opacity="0.45" transform="translate(1108 2032) rotate(-50)"/><path d="M-32 -3L-5 -16L32 3L5 16Z" fill="#8dbe23" opacity=".8" transform="translate(1108 2032) rotate(-50)"/><path d="M-15 0L-2 -31L15 -0L2 31Z" fill="#b5be26" opacity="0.6" transform="translate(1411 1991)"/><path d="M-10 0L-2 -21L10 -0L2 21Z" fill="#57bd1e" transform="translate(1411 1991)"/><path d="M-31 -2L-5 -19L31 2L5 19Z" fill="#c3bd28" opacity="0.45" transform="translate(1000 1621) rotate(-50)"/><path d="M-21 -2L-3 -13L21 2L3 13Z" fill="#8dbe23" opacity=".8" transform="translate(1000 1621) rotate(-50)"/><path d="M-31 -0L-5 -19L31 0L5 19Z" fill="#c3bd28" opacity="0.45" transform="translate(1315 1625) rotate(-50)"/><path d="M-21 -0L-3 -13L21 0L3 13Z" fill="#8dbe23" opacity=".8" transform="translate(1315 1625) rotate(-50)"/><path d="M-31 1L-5 -19L31 -1L5 19Z" fill="#c9bc28" opacity="0.45" transform="translate(1222 1617) rotate(-50)"/><path d="M-21 1L-3 -13L21 -1L3 13Z" fill="#9ebf24" opacity=".8" transform="translate(1222 1617) rotate(-50)"/><path d="M-39 -1L-6 -19L39 1L6 19Z" fill="#c5bc28" opacity="0.45" transform="translate(1339 1576) rotate(-50)"/><path d="M-26 -1L-4 -13L26 1L4 13Z" fill="#93be23" opacity=".8" transform="translate(1339 1576) rotate(-50)"/><path d="M-39 -3L-6 -19L39 3L6 19Z" fill="#c7bc28" opacity="0.45" transform="translate(1128 1662) rotate(-50)"/><path d="M-26 -3L-4 -13L26 3L4 13Z" fill="#98bf24" opacity=".8" transform="translate(1128 1662) rotate(-50)"/><path d="M-31 -0L-5 -19L31 0L5 19Z" fill="#c7bc28" opacity="0.45" transform="translate(1075 1946) rotate(-50)"/><path d="M-21 -0L-3 -13L21 0L3 13Z" fill="#98bf24" opacity=".8" transform="translate(1075 1946) rotate(-50)"/><path d="M-31 -2L-5 -19L31 2L5 19Z" fill="#c5bc28" opacity="0.45" transform="translate(1026 2007) rotate(-50)"/><path d="M-21 -2L-3 -13L21 2L3 13Z" fill="#93be23" opacity=".8" transform="translate(1026 2007) rotate(-50)"/><path d="M-46 -2L-7 -24L46 2L7 24Z" fill="#c5bc28" opacity="0.45" transform="translate(1299 1934) rotate(-50)"/><path d="M-32 -2L-5 -16L32 2L5 16Z" fill="#93be23" opacity=".8" transform="translate(1299 1934) rotate(-50)"/><path d="M-31 -2L-5 -19L31 2L5 19Z" fill="#c7bc28" opacity="0.45" transform="translate(1311 1987) rotate(-50)"/><path d="M-21 -2L-3 -13L21 2L3 13Z" fill="#98bf24" opacity=".8" transform="translate(1311 1987) rotate(-50)"/><path d="M-31 -1L-5 -19L31 1L5 19Z" fill="#c7bc28" opacity="0.45" transform="translate(876 1804) rotate(-50)"/><path d="M-21 -1L-3 -13L21 1L3 13Z" fill="#98bf24" opacity=".8" transform="translate(876 1804) rotate(-50)"/><path d="M-31 -3L-5 -19L31 3L5 19Z" fill="#c5bc28" opacity="0.45" transform="translate(831 2052) rotate(-50)"/><path d="M-21 -3L-3 -13L21 3L3 13Z" fill="#93be23" opacity=".8" transform="translate(831 2052) rotate(-50)"/><path d="M-39 1L-6 -24L39 -1L6 24Z" fill="#c7bc28" opacity="0.45" transform="translate(1295 2036) rotate(-50)"/><path d="M-26 1L-4 -16L26 -1L4 16Z" fill="#98bf24" opacity=".8" transform="translate(1295 2036) rotate(-50)"/><path d="M-39 3L-6 -19L39 -3L6 19Z" fill="#cbbc29" opacity="0.45" transform="translate(1197 1800) rotate(-50)"/><path d="M-26 3L-4 -13L26 -3L4 13Z" fill="#a4bf25" opacity=".8" transform="translate(1197 1800) rotate(-50)"/><path d="M-39 -1L-6 -24L39 1L6 24Z" fill="#cbbc29" opacity="0.45" transform="translate(1384 1670) rotate(-50)"/><path d="M-26 -1L-4 -16L26 1L4 16Z" fill="#a4bf25" opacity=".8" transform="translate(1384 1670) rotate(-50)"/><path d="M-31 1L-5 -14L31 -1L5 14Z" fill="#cbbc29" opacity="0.45" transform="translate(1193 1576) rotate(-50)"/><path d="M-21 1L-3 -10L21 -1L3 10Z" fill="#a4bf25" opacity=".8" transform="translate(1193 1576) rotate(-50)"/><path d="M-31 2L-5 -14L31 -2L5 14Z" fill="#c5bc28" opacity="0.45" transform="translate(900 1601) rotate(-50)"/><path d="M-21 2L-3 -10L21 -2L3 10Z" fill="#93be23" opacity=".8" transform="translate(900 1601) rotate(-50)"/><path d="M-31 -2L-5 -14L31 2L5 14Z" fill="#ccbc29" opacity="0.45" transform="translate(1075 1743) rotate(-50)"/><path d="M-21 -2L-3 -10L21 2L3 10Z" fill="#abbe26" opacity=".8" transform="translate(1075 1743) rotate(-50)"/><path d="M-46 -3L-7 -24L46 3L7 24Z" fill="#cbbc29" opacity="0.45" transform="translate(1238 2080) rotate(-50)"/><path d="M-32 -3L-5 -16L32 3L5 16Z" fill="#a4bf25" opacity=".8" transform="translate(1238 2080) rotate(-50)"/><path d="M-25 2L-4 -15L25 -2L4 15Z" fill="#c5bc28" opacity="0.45" transform="translate(1152 2109)"/><path d="M-17 2L-3 -10L17 -2L3 10Z" fill="#93be23" opacity=".8" transform="translate(1152 2109)"/><path d="M-39 2L-6 -19L39 -2L6 19Z" fill="#cbbc29" opacity="0.45" transform="translate(998 1963) rotate(-50)"/><path d="M-26 2L-4 -13L26 -2L4 13Z" fill="#a4bf25" opacity=".8" transform="translate(998 1963) rotate(-50)"/><path d="M-31 1L-5 -19L31 -1L5 19Z" fill="#cbbc29" opacity="0.45" transform="translate(957 1865) rotate(-50)"/><path d="M-21 1L-3 -13L21 -1L3 13Z" fill="#a4bf25" opacity=".8" transform="translate(957 1865) rotate(-50)"/><path d="M-39 -2L-6 -19L39 2L6 19Z" fill="#cbbc29" opacity="0.45" transform="translate(1392 2080) rotate(-50)"/><path d="M-26 -2L-4 -13L26 2L4 13Z" fill="#a4bf25" opacity=".8" transform="translate(1392 2080) rotate(-50)"/><path d="M-39 -1L-6 -19L39 1L6 19Z" fill="#cbbc29" opacity="0.45" transform="translate(1043 1849) rotate(-50)"/><path d="M-26 -1L-4 -13L26 1L4 13Z" fill="#a4bf25" opacity=".8" transform="translate(1043 1849) rotate(-50)"/><path d="M-39 3L-6 -19L39 -3L6 19Z" fill="#ccbc29" opacity="0.45" transform="translate(1274 1759) rotate(-50)"/><path d="M-26 3L-4 -13L26 -3L4 13Z" fill="#abbe26" opacity=".8" transform="translate(1274 1759) rotate(-50)"/><path d="M-39 3L-6 -19L39 -3L6 19Z" fill="#ccbc29" opacity="0.45" transform="translate(1356 2003) rotate(-50)"/><path d="M-26 3L-4 -13L26 -3L4 13Z" fill="#abbe26" opacity=".8" transform="translate(1356 2003) rotate(-50)"/><path d="M-39 2L-6 -19L39 -2L6 19Z" fill="#b1be26" opacity="0.6" transform="translate(489 2260) rotate(-50)"/><path d="M-26 2L-4 -13L26 -2L4 13Z" fill="#4bbd1e" transform="translate(489 2260) rotate(-50)"/><path d="M-35 -2L-5 -22L35 2L5 22Z" fill="#acbe26" opacity="0.6" transform="translate(369 2486) rotate(-50)"/><path d="M-24 -2L-4 -15L24 2L4 15Z" fill="#3cbe1f" transform="translate(369 2486) rotate(-50)"/><path d="M-35 3L-5 -19L35 -3L5 19Z" fill="#b7be26" opacity="0.6" transform="translate(272 2486) rotate(-50)"/><path d="M-24 3L-4 -13L24 -3L4 13Z" fill="#5ebd1f" transform="translate(272 2486) rotate(-50)"/><path d="M-31 -1L-5 -19L31 1L5 19Z" fill="#bdbd27" opacity="0.6" transform="translate(345 2169) rotate(-50)"/><path d="M-21 -1L-3 -13L21 1L3 13Z" fill="#70bd20" transform="translate(345 2169) rotate(-50)"/><path d="M-31 2L-5 -19L31 -2L5 19Z" fill="#bfbd27" opacity="0.6" transform="translate(249 2189) rotate(-50)"/><path d="M-21 2L-3 -13L21 -2L3 13Z" fill="#76bd20" transform="translate(249 2189) rotate(-50)"/><path d="M-31 -3L-5 -19L31 3L5 19Z" fill="#bdbd27" opacity="0.6" transform="translate(587 2214) rotate(-50)"/><path d="M-21 -3L-3 -13L21 3L3 13Z" fill="#70bd20" transform="translate(587 2214) rotate(-50)"/><path d="M-39 4L-6 -24L39 -4L6 24Z" fill="#c3bd28" opacity="0.45" transform="translate(550 2138) rotate(-50)"/><path d="M-26 4L-4 -16L26 -4L4 16Z" fill="#8dbe23" opacity=".8" transform="translate(550 2138) rotate(-50)"/><path d="M-31 1L-5 -19L31 -1L5 19Z" fill="#bdbd27" opacity="0.6" transform="translate(709 2126) rotate(-50)"/><path d="M-21 1L-3 -13L21 -1L3 13Z" fill="#70bd20" transform="translate(709 2126) rotate(-50)"/><path d="M-46 2L-7 -24L46 -2L7 24Z" fill="#c5bc28" opacity="0.45" transform="translate(497 2195) rotate(-50)"/><path d="M-32 2L-5 -16L32 -2L5 16Z" fill="#93be23" opacity=".8" transform="translate(497 2195) rotate(-50)"/><path d="M-43 -3L-6 -31L43 3L6 31Z" fill="#c1bd27" opacity="0.6" transform="translate(363 2350)"/><path d="M-30 -3L-4 -21L30 3L4 21Z" fill="#7bbe21" transform="translate(363 2350)"/><path d="M-35 1L-5 -19L35 -1L5 19Z" fill="#bfbd27" opacity="0.6" transform="translate(540 2439) rotate(-50)"/><path d="M-24 1L-4 -13L24 -1L4 13Z" fill="#76bd20" transform="translate(540 2439) rotate(-50)"/><path d="M-39 1L-6 -19L39 -1L6 19Z" fill="#bdbd27" opacity="0.6" transform="translate(538 2510) rotate(-50)"/><path d="M-26 1L-4 -13L26 -1L4 13Z" fill="#70bd20" transform="translate(538 2510) rotate(-50)"/><path d="M-35 1L-5 -17L35 -1L5 17Z" fill="#c3bd28" opacity="0.45" transform="translate(514 2486) rotate(-50)"/><path d="M-24 1L-4 -12L24 -1L4 12Z" fill="#8dbe23" opacity=".8" transform="translate(514 2486) rotate(-50)"/><path d="M-35 -1L-5 -22L35 1L5 22Z" fill="#bdbd27" opacity="0.6" transform="translate(396 2553) rotate(-50)"/><path d="M-24 -1L-4 -15L24 1L4 15Z" fill="#70bd20" transform="translate(396 2553) rotate(-50)"/><path d="M-39 2L-6 -19L39 -2L6 19Z" fill="#bfbd27" opacity="0.6" transform="translate(418 2594) rotate(-50)"/><path d="M-26 2L-4 -13L26 -2L4 13Z" fill="#76bd20" transform="translate(418 2594) rotate(-50)"/><path d="M-37 -1L-6 -25L37 1L6 25Z" fill="#c1bd27" opacity="0.6" transform="translate(538 2557)"/><path d="M-25 -1L-4 -17L25 1L4 17Z" fill="#7bbe21" transform="translate(538 2557)"/><path d="M-35 -1L-5 -19L35 1L5 19Z" fill="#c3bd28" opacity="0.45" transform="translate(589 2535) rotate(-50)"/><path d="M-24 -1L-4 -13L24 1L4 13Z" fill="#8dbe23" opacity=".8" transform="translate(589 2535) rotate(-50)"/><path d="M-31 -3L-5 -22L31 3L5 22Z" fill="#c3bd28" opacity="0.45" transform="translate(664 2533)"/><path d="M-21 -3L-3 -15L21 3L3 15Z" fill="#8dbe23" opacity=".8" transform="translate(664 2533)"/><path d="M-39 1L-6 -19L39 -1L6 19Z" fill="#c7bc28" opacity="0.45" transform="translate(737 2533) rotate(-50)"/><path d="M-26 1L-4 -13L26 -1L4 13Z" fill="#98bf24" opacity=".8" transform="translate(737 2533) rotate(-50)"/><path d="M-35 -3L-5 -19L35 3L5 19Z" fill="#bdbd27" opacity="0.6" transform="translate(564 2647) rotate(-50)"/><path d="M-24 -3L-4 -13L24 3L4 13Z" fill="#70bd20" transform="translate(564 2647) rotate(-50)"/><path d="M-39 -2L-6 -19L39 2L6 19Z" fill="#c5bc28" opacity="0.45" transform="translate(321 2582) rotate(-50)"/><path d="M-26 -2L-4 -13L26 2L4 13Z" fill="#93be23" opacity=".8" transform="translate(321 2582) rotate(-50)"/><path d="M-22 -5L-3 -31L22 5L3 31Z" fill="#c5bc28" opacity="0.45" transform="translate(638 2445)"/><path d="M-15 -5L-2 -21L15 5L2 21Z" fill="#93be23" opacity=".8" transform="translate(638 2445)"/><path d="M-27 1L-4 -17L27 -1L4 17Z" fill="#c5bc28" opacity="0.45" transform="translate(660 2486) rotate(-50)"/><path d="M-18 1L-3 -12L18 -1L3 12Z" fill="#93be23" opacity=".8" transform="translate(660 2486) rotate(-50)"/><path d="M-46 0L-7 -24L46 -0L7 24Z" fill="#c7bc28" opacity="0.45" transform="translate(729 2399) rotate(-50)"/><path d="M-32 0L-5 -16L32 -0L5 16Z" fill="#98bf24" opacity=".8" transform="translate(729 2399) rotate(-50)"/><path d="M-56 0L-8 -31L56 -0L8 31Z" fill="#c7bc28" opacity="0.45" transform="translate(632 2362)"/><path d="M-38 0L-6 -21L38 -0L6 21Z" fill="#98bf24" opacity=".8" transform="translate(632 2362)"/><path d="M-46 -4L-7 -24L46 4L7 24Z" fill="#c7bc28" opacity="0.45" transform="translate(314 2399) rotate(-50)"/><path d="M-32 -4L-5 -16L32 4L5 16Z" fill="#98bf24" opacity=".8" transform="translate(314 2399) rotate(-50)"/><path d="M-39 -0L-6 -19L39 0L6 19Z" fill="#c9bc28" opacity="0.45" transform="translate(465 2395) rotate(-50)"/><path d="M-26 -0L-4 -13L26 0L4 13Z" fill="#9ebf24" opacity=".8" transform="translate(465 2395) rotate(-50)"/><path d="M-39 -1L-6 -19L39 1L6 19Z" fill="#c9bc28" opacity="0.45" transform="translate(542 2370) rotate(-50)"/><path d="M-26 -1L-4 -13L26 1L4 13Z" fill="#9ebf24" opacity=".8" transform="translate(542 2370) rotate(-50)"/><path d="M-25 -6L-4 -37L25 6L4 37Z" fill="#c9bc28" opacity="0.45" transform="translate(298 2309)"/><path d="M-17 -6L-3 -25L17 6L3 25Z" fill="#9ebf24" opacity=".8" transform="translate(298 2309)"/><path d="M-37 -5L-6 -25L37 5L6 25Z" fill="#c9bc28" opacity="0.45" transform="translate(404 2248)"/><path d="M-25 -5L-4 -17L25 5L4 17Z" fill="#9ebf24" opacity=".8" transform="translate(404 2248)"/><path d="M-43 5L-6 -25L43 -5L6 25Z" fill="#c5bc28" opacity="0.45" transform="translate(672 2199)"/><path d="M-30 5L-4 -17L30 -5L4 17Z" fill="#93be23" opacity=".8" transform="translate(672 2199)"/><path d="M-39 -3L-6 -19L39 3L6 19Z" fill="#cbbc29" opacity="0.45" transform="translate(310 2240) rotate(-50)"/><path d="M-26 -3L-4 -13L26 3L4 13Z" fill="#a4bf25" opacity=".8" transform="translate(310 2240) rotate(-50)"/><path d="M-25 -3L-4 -37L25 3L4 37Z" fill="#cbbc29" opacity="0.45" transform="translate(591 2281)"/><path d="M-17 -3L-3 -25L17 3L3 25Z" fill="#a4bf25" opacity=".8" transform="translate(591 2281)"/><path d="M-31 -2L-5 -19L31 2L5 19Z" fill="#cbbc29" opacity="0.45" transform="translate(656 2260)"/><path d="M-21 -2L-3 -13L21 2L3 13Z" fill="#a4bf25" opacity=".8" transform="translate(656 2260)"/><path d="M-19 1L-3 -31L19 -1L3 31Z" fill="#c5bc28" opacity="0.45" transform="translate(233 2651)"/><path d="M-13 1L-2 -21L13 -1L2 21Z" fill="#93be23" opacity=".8" transform="translate(233 2651)"/><path d="M-39 -3L-6 -19L39 3L6 19Z" fill="#cbbc29" opacity="0.45" transform="translate(371 2618) rotate(-50)"/><path d="M-26 -3L-4 -13L26 3L4 13Z" fill="#a4bf25" opacity=".8" transform="translate(371 2618) rotate(-50)"/><path d="M-31 -0L-5 -19L31 0L5 19Z" fill="#cbbc29" opacity="0.45" transform="translate(469 2557) rotate(-50)"/><path d="M-21 -0L-3 -13L21 0L3 13Z" fill="#a4bf25" opacity=".8" transform="translate(469 2557) rotate(-50)"/><path d="M-31 -1L-5 -14L31 1L5 14Z" fill="#cbbc29" opacity="0.45" transform="translate(810 2492) rotate(-50)"/><path d="M-21 -1L-3 -10L21 1L3 10Z" fill="#a4bf25" opacity=".8" transform="translate(810 2492) rotate(-50)"/><path d="M-49 2L-7 -19L49 -2L7 19Z" fill="#cbbc29" opacity="0.45" transform="translate(774 2610)"/><path d="M-34 2L-5 -13L34 -2L5 13Z" fill="#a4bf25" opacity=".8" transform="translate(774 2610)"/><path d="M-39 -4L-6 -24L39 4L6 24Z" fill="#cbbc29" opacity="0.45" transform="translate(550 2610) rotate(-50)"/><path d="M-26 -4L-4 -16L26 4L4 16Z" fill="#a4bf25" opacity=".8" transform="translate(550 2610) rotate(-50)"/><path d="M-39 -1L-6 -19L39 1L6 19Z" fill="#ccbc29" opacity="0.45" transform="translate(436 2138) rotate(-50)"/><path d="M-26 -1L-4 -13L26 1L4 13Z" fill="#abbe26" opacity=".8" transform="translate(436 2138) rotate(-50)"/><path d="M-39 -0L-6 -24L39 0L6 24Z" fill="#ccbc29" opacity="0.45" transform="translate(294 2134) rotate(-50)"/><path d="M-26 -0L-4 -16L26 0L4 16Z" fill="#abbe26" opacity=".8" transform="translate(294 2134) rotate(-50)"/><path d="M-39 3L-6 -19L39 -3L6 19Z" fill="#ccbc29" opacity="0.45" transform="translate(794 2224) rotate(-50)"/><path d="M-26 3L-4 -13L26 -3L4 13Z" fill="#abbe26" opacity=".8" transform="translate(794 2224) rotate(-50)"/><path d="M-31 0L-5 -17L31 -0L5 17Z" fill="#b9be26" opacity="0.6" transform="translate(1144 2124) rotate(-50)"/><path d="M-21 0L-3 -12L21 -0L3 12Z" fill="#64bd1f" transform="translate(1144 2124) rotate(-50)"/><path d="M-25 -0L-4 -37L25 0L4 37Z" fill="#bdbd27" opacity="0.6" transform="translate(1242 2163)"/><path d="M-17 -0L-3 -25L17 0L3 25Z" fill="#70bd20" transform="translate(1242 2163)"/><path d="M-43 1L-6 -22L43 -1L6 22Z" fill="#c1bd27" opacity="0.6" transform="translate(1262 2419)"/><path d="M-30 1L-4 -15L30 -1L4 15Z" fill="#7bbe21" transform="translate(1262 2419)"/><path d="M-37 -2L-6 -25L37 2L6 25Z" fill="#c1bd27" opacity="0.6" transform="translate(1278 2512)"/><path d="M-25 -2L-4 -17L25 2L4 17Z" fill="#7bbe21" transform="translate(1278 2512)"/><path d="M-35 -3L-5 -17L35 3L5 17Z" fill="#c1bd27" opacity="0.6" transform="translate(1291 2553) rotate(-50)"/><path d="M-24 -3L-4 -12L24 3L4 12Z" fill="#7bbe21" transform="translate(1291 2553) rotate(-50)"/><path d="M-25 0L-4 -37L25 -0L4 37Z" fill="#c7bc28" opacity="0.45" transform="translate(1396 2423)"/><path d="M-17 0L-3 -25L17 -0L3 25Z" fill="#98bf24" opacity=".8" transform="translate(1396 2423)"/><path d="M-31 3L-5 -17L31 -3L5 17Z" fill="#c5bc28" opacity="0.45" transform="translate(1173 2279) rotate(-50)"/><path d="M-21 3L-3 -12L21 -3L3 12Z" fill="#93be23" opacity=".8" transform="translate(1173 2279) rotate(-50)"/><path d="M-31 1L-5 -17L31 -1L5 17Z" fill="#c7bc28" opacity="0.45" transform="translate(856 2441) rotate(-50)"/><path d="M-21 1L-3 -12L21 -1L3 12Z" fill="#98bf24" opacity=".8" transform="translate(856 2441) rotate(-50)"/><path d="M-31 -2L-5 -22L31 2L5 22Z" fill="#c7bc28" opacity="0.45" transform="translate(974 2256)"/><path d="M-21 -2L-3 -15L21 2L3 15Z" fill="#98bf24" opacity=".8" transform="translate(974 2256)"/><path d="M-39 1L-6 -19L39 -1L6 19Z" fill="#c7bc28" opacity="0.45" transform="translate(1047 2236) rotate(-50)"/><path d="M-26 1L-4 -13L26 -1L4 13Z" fill="#98bf24" opacity=".8" transform="translate(1047 2236) rotate(-50)"/><path d="M-46 3L-7 -24L46 -3L7 24Z" fill="#c7bc28" opacity="0.45" transform="translate(1319 2643) rotate(-50)"/><path d="M-32 3L-5 -16L32 -3L5 16Z" fill="#98bf24" opacity=".8" transform="translate(1319 2643) rotate(-50)"/><path d="M-49 -2L-7 -25L49 2L7 25Z" fill="#c9bc28" opacity="0.45" transform="translate(1043 2598)"/><path d="M-34 -2L-5 -17L34 2L5 17Z" fill="#9ebf24" opacity=".8" transform="translate(1043 2598)"/><path d="M-31 1L-5 -19L31 -1L5 19Z" fill="#cbbc29" opacity="0.45" transform="translate(1026 2508) rotate(-50)"/><path d="M-21 1L-3 -13L21 -1L3 13Z" fill="#a4bf25" opacity=".8" transform="translate(1026 2508) rotate(-50)"/><path d="M-31 -1L-5 -19L31 1L5 19Z" fill="#cbbc29" opacity="0.45" transform="translate(1315 2236) rotate(-50)"/><path d="M-21 -1L-3 -13L21 1L3 13Z" fill="#a4bf25" opacity=".8" transform="translate(1315 2236) rotate(-50)"/><path d="M-31 -2L-5 -19L31 2L5 19Z" fill="#cbbc29" opacity="0.45" transform="translate(1343 2464)"/><path d="M-21 -2L-3 -13L21 2L3 13Z" fill="#a4bf25" opacity=".8" transform="translate(1343 2464)"/><path d="M-25 -3L-4 -37L25 3L4 37Z" fill="#ccbc29" opacity="0.45" transform="translate(1364 2293)"/><path d="M-17 -3L-3 -25L17 3L3 25Z" fill="#abbe26" opacity=".8" transform="translate(1364 2293)"/><path d="M-39 -2L-6 -19L39 2L6 19Z" fill="#c9bc28" opacity="0.45" transform="translate(835 2130) rotate(-50)"/><path d="M-26 -2L-4 -13L26 2L4 13Z" fill="#9ebf24" opacity=".8" transform="translate(835 2130) rotate(-50)"/><path d="M-23 -1L-3 -14L23 1L3 14Z" fill="#c7bc28" opacity="0.45" transform="translate(957 2464) rotate(-50)"/><path d="M-16 -1L-2 -10L16 1L2 10Z" fill="#98bf24" opacity=".8" transform="translate(957 2464) rotate(-50)"/><path d="M-31 -3L-5 -19L31 3L5 19Z" fill="#cbbc29" opacity="0.45" transform="translate(831 2488) rotate(-50)"/><path d="M-21 -3L-3 -13L21 3L3 13Z" fill="#a4bf25" opacity=".8" transform="translate(831 2488) rotate(-50)"/><path d="M-31 -1L-5 -19L31 1L5 19Z" fill="#ccbc29" opacity="0.45" transform="translate(1396 2203) rotate(-50)"/><path d="M-21 -1L-3 -13L21 1L3 13Z" fill="#abbe26" opacity=".8" transform="translate(1396 2203) rotate(-50)"/><path d="M-39 -3L-6 -19L39 3L6 19Z" fill="#ccbc29" opacity="0.45" transform="translate(1189 2443) rotate(-50)"/><path d="M-26 -3L-4 -13L26 3L4 13Z" fill="#abbe26" opacity=".8" transform="translate(1189 2443) rotate(-50)"/><path d="M-37 2L-6 -25L37 -2L6 25Z" fill="#ccbc29" opacity="0.45" transform="translate(1100 2476)"/><path d="M-25 2L-4 -17L25 -2L4 17Z" fill="#abbe26" opacity=".8" transform="translate(1100 2476)"/><path d="M-39 1L-6 -24L39 -1L6 24Z" fill="#ccbc29" opacity="0.45" transform="translate(856 2557) rotate(-50)"/><path d="M-26 1L-4 -16L26 -1L4 16Z" fill="#abbe26" opacity=".8" transform="translate(856 2557) rotate(-50)"/><path d="M-46 -4L-7 -24L46 4L7 24Z" fill="#ccbc29" opacity="0.45" transform="translate(1327 2594) rotate(-50)"/><path d="M-32 -4L-5 -16L32 4L5 16Z" fill="#abbe26" opacity=".8" transform="translate(1327 2594) rotate(-50)"/><path d="M-19 4L-3 -37L19 -4L3 37Z" fill="#cbbc29" opacity="0.45" transform="translate(827 2618)"/><path d="M-13 4L-2 -25L13 -4L2 25Z" fill="#a4bf25" opacity=".8" transform="translate(827 2618)"/><path d="M-31 -2L-5 -14L31 2L5 14Z" fill="#ccbc29" opacity="0.45" transform="translate(1071 2305) rotate(-50)"/><path d="M-21 -2L-3 -10L21 2L3 10Z" fill="#abbe26" opacity=".8" transform="translate(1071 2305) rotate(-50)"/><path d="M-39 -0L-6 -19L39 0L6 19Z" fill="#ccbc29" opacity="0.45" transform="translate(1124 2606) rotate(-50)"/><path d="M-26 -0L-4 -13L26 0L4 13Z" fill="#abbe26" opacity=".8" transform="translate(1124 2606) rotate(-50)"/><path d="M-39 0L-6 -19L39 -0L6 19Z" fill="#ccbc29" opacity="0.45" transform="translate(1303 2130) rotate(-50)"/><path d="M-26 0L-4 -13L26 -0L4 13Z" fill="#abbe26" opacity=".8" transform="translate(1303 2130) rotate(-50)"/><path d="M-31 -1L-5 -19L31 1L5 19Z" fill="#ccbc29" opacity="0.45" transform="translate(1262 2325) rotate(-50)"/><path d="M-21 -1L-3 -13L21 1L3 13Z" fill="#abbe26" opacity=".8" transform="translate(1262 2325) rotate(-50)"/><path d="M-39 -1L-6 -19L39 1L6 19Z" fill="#cebb29" opacity="0.45" transform="translate(1181 2557) rotate(-50)"/><path d="M-26 -1L-4 -13L26 1L4 13Z" fill="#b2be26" opacity=".8" transform="translate(1181 2557) rotate(-50)"/></g>
<g filter="url(#b05)"><path d="M905.2 1546.0L906.6 1563.5L907.8 1581.0L904.3 1598.5L904.3 1616.0L906.6 1633.5L904.7 1651.0L903.7 1668.5L905.5 1686.0L905.0 1703.5L904.5 1721.0L905.1 1738.5L906.7 1756.0L904.9 1773.5L905.1 1791.0L906.0 1808.5L906.3 1826.0L906.8 1843.5L903.9 1861.0L904.9 1878.5L907.0 1896.0L903.9 1913.5L903.9 1931.0L904.0 1948.5L905.8 1966.0L907.1 1983.5L908.0 2001.0L906.2 2018.5L905.8 2036.0L904.6 2053.5L904.3 2071.0L904.1 2088.5L906.5 2106.0L905.0 2123.5L905.9 2141.0L903.0 2158.5L903.0 2176.0L905.2 2193.5L907.0 2211.0L905.0 2228.5L903.6 2246.0L904.9 2263.5L904.4 2281.0L905.1 2298.5L904.5 2316.0L903.3 2333.5L904.4 2351.0L904.8 2368.5L906.7 2386.0L907.4 2403.5L908.1 2421.0L904.9 2438.5L903.8 2456.0L903.3 2473.5L905.3 2491.0L905.4 2508.5L903.4 2526.0L903.4 2543.5L902.6 2561.0L905.8 2578.5L906.7 2596.0L903.4 2613.5L906.4 2631.0L906.8 2648.5L905.2 2666.0L905.6 2683.5L951.8 2683.5L954.3 2666.0L951.6 2648.5L951.4 2631.0L954.3 2613.5L955.3 2596.0L954.0 2578.5L950.8 2561.0L950.9 2543.5L952.2 2526.0L952.9 2508.5L954.5 2491.0L952.0 2473.5L951.9 2456.0L953.5 2438.5L954.5 2421.0L953.9 2403.5L952.5 2386.0L951.0 2368.5L950.8 2351.0L951.4 2333.5L951.5 2316.0L955.0 2298.5L952.8 2281.0L953.5 2263.5L950.9 2246.0L953.0 2228.5L952.6 2211.0L953.9 2193.5L954.3 2176.0L951.7 2158.5L954.3 2141.0L951.4 2123.5L953.4 2106.0L953.7 2088.5L950.3 2071.0L950.8 2053.5L952.6 2036.0L953.6 2018.5L950.4 2001.0L952.0 1983.5L950.7 1966.0L953.3 1948.5L950.0 1931.0L950.6 1913.5L952.1 1896.0L952.1 1878.5L951.5 1861.0L954.7 1843.5L953.2 1826.0L950.7 1808.5L951.2 1791.0L953.6 1773.5L952.5 1756.0L954.5 1738.5L954.3 1721.0L953.4 1703.5L950.1 1686.0L950.9 1668.5L952.1 1651.0L952.0 1633.5L952.4 1616.0L951.0 1598.5L953.2 1581.0L953.9 1563.5L951.8 1546.0Z" fill="#b9be26" opacity=".75"/><path d="M907.6 1546.0L908.8 1563.5L909.8 1581.0L906.9 1598.5L906.9 1616.0L908.8 1633.5L907.2 1651.0L906.4 1668.5L907.9 1686.0L907.5 1703.5L907.0 1721.0L907.6 1738.5L908.9 1756.0L907.3 1773.5L907.6 1791.0L908.3 1808.5L908.6 1826.0L909.0 1843.5L906.6 1861.0L907.4 1878.5L909.1 1896.0L906.6 1913.5L906.6 1931.0L906.6 1948.5L908.1 1966.0L909.2 1983.5L910.0 2001.0L908.5 2018.5L908.1 2036.0L907.1 2053.5L906.9 2071.0L906.7 2088.5L908.7 2106.0L907.5 2123.5L908.2 2141.0L905.8 2158.5L905.8 2176.0L907.6 2193.5L909.2 2211.0L907.4 2228.5L906.3 2246.0L907.4 2263.5L907.0 2281.0L907.5 2298.5L907.1 2316.0L906.0 2333.5L907.0 2351.0L907.3 2368.5L908.9 2386.0L909.5 2403.5L910.1 2421.0L907.3 2438.5L906.5 2456.0L906.0 2473.5L907.7 2491.0L907.8 2508.5L906.2 2526.0L906.1 2543.5L905.4 2561.0L908.1 2578.5L908.9 2596.0L906.1 2613.5L908.6 2631.0L909.0 2648.5L907.6 2666.0L908.0 2683.5L949.4 2683.5L951.5 2666.0L949.3 2648.5L949.1 2631.0L951.5 2613.5L952.3 2596.0L951.2 2578.5L948.6 2561.0L948.7 2543.5L949.7 2526.0L950.3 2508.5L951.6 2491.0L949.6 2473.5L949.5 2456.0L950.8 2438.5L951.7 2421.0L951.2 2403.5L950.0 2386.0L948.8 2368.5L948.6 2351.0L949.1 2333.5L949.2 2316.0L952.1 2298.5L950.3 2281.0L950.9 2263.5L948.7 2246.0L950.5 2228.5L950.1 2211.0L951.2 2193.5L951.5 2176.0L949.3 2158.5L951.5 2141.0L949.1 2123.5L950.7 2106.0L951.0 2088.5L948.2 2071.0L948.6 2053.5L950.1 2036.0L950.9 2018.5L948.3 2001.0L949.6 1983.5L948.5 1966.0L950.7 1948.5L947.9 1931.0L948.5 1913.5L949.7 1896.0L949.7 1878.5L949.2 1861.0L951.8 1843.5L950.6 1826.0L948.5 1808.5L948.9 1791.0L951.0 1773.5L950.0 1756.0L951.7 1738.5L951.5 1721.0L950.8 1703.5L948.0 1686.0L948.7 1668.5L949.7 1651.0L949.6 1633.5L950.0 1616.0L948.8 1598.5L950.6 1581.0L951.2 1563.5L949.4 1546.0Z" fill="#4bbd1e"/><path d="M913.0 1546.0L913.8 1563.5L914.5 1581.0L912.5 1598.5L912.5 1616.0L913.8 1633.5L912.7 1651.0L912.1 1668.5L913.1 1686.0L912.9 1703.5L912.6 1721.0L913.0 1738.5L913.9 1756.0L912.8 1773.5L913.0 1791.0L913.4 1808.5L913.6 1826.0L913.9 1843.5L912.3 1861.0L912.8 1878.5L914.0 1896.0L912.2 1913.5L912.2 1931.0L912.3 1948.5L913.3 1966.0L914.1 1983.5L914.6 2001.0L913.6 2018.5L913.3 2036.0L912.6 2053.5L912.5 2071.0L912.3 2088.5L913.7 2106.0L912.9 2123.5L913.4 2141.0L911.7 2158.5L911.7 2176.0L913.0 2193.5L914.0 2211.0L912.9 2228.5L912.0 2246.0L912.8 2263.5L912.5 2281.0L912.9 2298.5L912.6 2316.0L911.9 2333.5L912.5 2351.0L912.8 2368.5L913.8 2386.0L914.3 2403.5L914.7 2421.0L912.8 2438.5L912.2 2456.0L911.8 2473.5L913.0 2491.0L913.1 2508.5L911.9 2526.0L911.9 2543.5L911.4 2561.0L913.3 2578.5L913.9 2596.0L911.9 2613.5L913.7 2631.0L913.9 2648.5L913.0 2666.0L913.2 2683.5L944.2 2683.5L945.6 2666.0L944.1 2648.5L944.0 2631.0L945.7 2613.5L946.2 2596.0L945.5 2578.5L943.6 2561.0L943.7 2543.5L944.4 2526.0L944.8 2508.5L945.7 2491.0L944.3 2473.5L944.2 2456.0L945.2 2438.5L945.8 2421.0L945.4 2403.5L944.6 2386.0L943.7 2368.5L943.6 2351.0L943.9 2333.5L944.0 2316.0L946.0 2298.5L944.8 2281.0L945.2 2263.5L943.7 2246.0L944.9 2228.5L944.6 2211.0L945.4 2193.5L945.6 2176.0L944.1 2158.5L945.7 2141.0L943.9 2123.5L945.1 2106.0L945.3 2088.5L943.3 2071.0L943.6 2053.5L944.7 2036.0L945.2 2018.5L943.4 2001.0L944.3 1983.5L943.5 1966.0L945.0 1948.5L943.1 1931.0L943.5 1913.5L944.3 1896.0L944.4 1878.5L944.0 1861.0L945.8 1843.5L945.0 1826.0L943.5 1808.5L943.8 1791.0L945.2 1773.5L944.6 1756.0L945.8 1738.5L945.6 1721.0L945.1 1703.5L943.2 1686.0L943.6 1668.5L944.4 1651.0L944.3 1633.5L944.6 1616.0L943.7 1598.5L945.0 1581.0L945.4 1563.5L944.2 1546.0Z" fill="#10c47a"/><path d="M914.3 1546.0L915.0 1563.5L915.6 1581.0L913.9 1598.5L913.9 1616.0L915.0 1633.5L914.0 1651.0L913.5 1668.5L914.4 1686.0L914.2 1703.5L913.9 1721.0L914.3 1738.5L915.1 1756.0L914.1 1773.5L914.3 1791.0L914.7 1808.5L914.9 1826.0L915.1 1843.5L913.7 1861.0L914.2 1878.5L915.2 1896.0L913.7 1913.5L913.7 1931.0L913.7 1948.5L914.6 1966.0L915.3 1983.5L915.7 2001.0L914.8 2018.5L914.6 2036.0L914.0 2053.5L913.9 2071.0L913.7 2088.5L914.9 2106.0L914.2 2123.5L914.7 2141.0L913.2 2158.5L913.2 2176.0L914.3 2193.5L915.2 2211.0L914.2 2228.5L913.5 2246.0L914.2 2263.5L913.9 2281.0L914.2 2298.5L914.0 2316.0L913.3 2333.5L913.9 2351.0L914.1 2368.5L915.0 2386.0L915.4 2403.5L915.8 2421.0L914.1 2438.5L913.6 2456.0L913.3 2473.5L914.4 2491.0L914.4 2508.5L913.4 2526.0L913.4 2543.5L913.0 2561.0L914.6 2578.5L915.1 2596.0L913.4 2613.5L914.9 2631.0L915.1 2648.5L914.3 2666.0L914.5 2683.5L942.9 2683.5L944.2 2666.0L942.8 2648.5L942.7 2631.0L944.2 2613.5L944.6 2596.0L944.0 2578.5L942.4 2561.0L942.5 2543.5L943.1 2526.0L943.4 2508.5L944.2 2491.0L943.0 2473.5L942.9 2456.0L943.7 2438.5L944.2 2421.0L943.9 2403.5L943.3 2386.0L942.5 2368.5L942.4 2351.0L942.7 2333.5L942.7 2316.0L944.5 2298.5L943.4 2281.0L943.8 2263.5L942.5 2246.0L943.5 2228.5L943.3 2211.0L943.9 2193.5L944.1 2176.0L942.8 2158.5L944.2 2141.0L942.7 2123.5L943.7 2106.0L943.8 2088.5L942.2 2071.0L942.4 2053.5L943.3 2036.0L943.8 2018.5L942.2 2001.0L943.0 1983.5L942.3 1966.0L943.6 1948.5L942.0 1931.0L942.3 1913.5L943.0 1896.0L943.1 1878.5L942.8 1861.0L944.3 1843.5L943.6 1826.0L942.3 1808.5L942.6 1791.0L943.8 1773.5L943.3 1756.0L944.2 1738.5L944.1 1721.0L943.7 1703.5L942.0 1686.0L942.4 1668.5L943.1 1651.0L943.0 1633.5L943.2 1616.0L942.5 1598.5L943.6 1581.0L944.0 1563.5L942.9 1546.0Z" fill="#12acd0"/></g>
<rect x="915.2" y="1551.0" width="27" height="1123.0" fill="url(#st)" filter="url(#b05)"/>
<g filter="url(#b1)"><path d="M928.7 1550L931.7 1580L928.7 1610L925.7 1580Z" fill="#3f2eb0"/><path d="M928.7 1610L931.7 1650L928.7 1690L925.7 1650Z" fill="#3f2eb0"/><path d="M928.7 1680L931.7 1720L928.7 1760L925.7 1720Z" fill="#3f2eb0"/><path d="M928.7 1760L931.7 1800L928.7 1840L925.7 1800Z" fill="#3f2eb0"/><path d="M928.7 1840L931.7 1880L928.7 1920L925.7 1880Z" fill="#3f2eb0"/><path d="M928.7 1965L932.7 1987L928.7 2009L924.7 1987Z" fill="#3f2eb0"/><path d="M928.7 2123L932.2 2163L928.7 2203L925.2 2163Z" fill="#3f2eb0"/><path d="M928.7 2216L933.2 2236L928.7 2256L924.2 2236Z" fill="#3f2eb0"/><path d="M928.7 2261L933.2 2281L928.7 2301L924.2 2281Z" fill="#3f2eb0"/><path d="M928.7 2370L932.2 2395L928.7 2420L925.2 2395Z" fill="#3f2eb0"/><path d="M928.7 2418L932.2 2440L928.7 2462L925.2 2440Z" fill="#3f2eb0"/><path d="M928.7 2515L931.7 2540L928.7 2565L925.7 2540Z" fill="#3f2eb0"/><path d="M928.7 2580L933.2 2602L928.7 2624L924.2 2602Z" fill="#3f2eb0"/></g>
<g filter="url(#b2)"><rect x="906" y="2019.5" width="44" height="36" fill="#fdb83c"/><path d="M934 2011.5L951 2009.5L951 2019.5L930 2019.5Z" fill="#6abd1f"/><path d="M941 2010.5L953 2007.5L953 2018.5Z" fill="#f4b738"/><path d="M907 2020.5H938L924 2028.5L907 2031.5Z" fill="#5ebd1f"/><path d="M912 2020.5H930L920 2024.5Z" fill="#0cb0c8"/><path d="M914 2056.5L928 2044.5L950 2039.5V2056.5Z" fill="#6abd1f"/><path d="M919 2058.5L930 2046.5L945 2044.5V2058.5Z" fill="#17a9d0"/><path d="M945 2043.5H951V2056.5H946Z" fill="#87be22"/><path d="M907 2048.5L924 2036.5L938 2026.5L950 2024.5" stroke="#f8d626" stroke-width="7.5" fill="none" stroke-linecap="round"/></g><path d="M914 2042.5L926 2034.5L940 2026.5" stroke="#f8f612" stroke-width="3.6" fill="none" stroke-linecap="round" filter="url(#b2)"/><g filter="url(#b1)"><path d="M975.3 1720.1H1043.9V1806.8L1028.9 1821.8H958.3V1737.1Z" fill="#98bf24"/><path d="M976.5 1722.8H1041.2V1805.6L1027.7 1819.1H961.0V1738.3Z" fill="#17a9d0" stroke="#44bd1e" stroke-width="5.6" stroke-linejoin="round"/><path d="M978.8 1726.6H1037.4V1803.3L1025.4 1815.3H964.8V1740.6Z" fill="none" stroke="#0cb0c8" stroke-width="2.5"/></g><g filter="url(#b1)"><rect x="974.5" y="1731" width="58.0" height="77.5" fill="url(#gW)"/></g><g filter="url(#b3)"><ellipse cx="1001" cy="1761" rx="23" ry="10" fill="#3875c8" transform="rotate(-32 1001 1761)"/><ellipse cx="1004" cy="1758" rx="14" ry="6.5" fill="#27a2d5" transform="rotate(-32 1004 1758)"/></g><g filter="url(#b1)"><path d="M831.0 1856.3H874.0V1921.6L858.0 1937.6H812.0V1875.3Z" fill="#98bf24"/><path d="M832.2 1859.0H871.3V1920.4L856.8 1934.9H814.7V1876.5Z" fill="#17a9d0" stroke="#44bd1e" stroke-width="5.6" stroke-linejoin="round"/><path d="M834.5 1862.8H867.5V1918.1L854.5 1931.1H818.5V1878.8Z" fill="none" stroke="#0cb0c8" stroke-width="2.5"/></g><g filter="url(#b1)"><rect x="829.8" y="1873.5" width="27.4" height="48.0" fill="url(#gL)"/></g><g filter="url(#b1)"><path d="M999.2 2127.9H1044.9V2194.7L1029.4 2210.2H982.7V2144.4Z" fill="#98bf24"/><path d="M1000.4 2130.6H1042.2V2193.5L1028.2 2207.5H985.4V2145.6Z" fill="#17a9d0" stroke="#44bd1e" stroke-width="5.6" stroke-linejoin="round"/><path d="M1002.7 2134.4H1038.4V2191.2L1025.9 2203.7H989.2V2147.9Z" fill="none" stroke="#0cb0c8" stroke-width="2.5"/></g><g filter="url(#b1)"><rect x="996.8" y="2140" width="36.2" height="55.5" fill="url(#gN)"/></g><g filter="url(#b1)"><path d="M829.5 2242.7H899.4V2330.4L882.4 2347.4H812.0V2260.2Z" fill="#98bf24"/><path d="M830.7 2245.4H896.7V2329.2L881.2 2344.7H814.7V2261.4Z" fill="#17a9d0" stroke="#44bd1e" stroke-width="5.6" stroke-linejoin="round"/><path d="M833.0 2249.2H892.9V2326.9L878.9 2340.9H818.5V2263.7Z" fill="none" stroke="#0cb0c8" stroke-width="2.5"/></g><g filter="url(#b1)"><rect x="829.4" y="2259.8" width="52.8" height="71.2" fill="url(#gB)"/></g>
</g>
<rect x="974" y="1729.3" width="59.0" height="79.8" fill="none" stroke="#000" stroke-width="1.45"/>
<path d="M1006.7 1777.2L1117.7 1857.3" stroke="#000" stroke-width="1.4" fill="none"/>
<path d="M0 0L-47 -15.4L-31.5 0L-47 15.4Z" transform="translate(1140.4 1873.7) rotate(35.8)"/>
<rect x="904.2" y="2019.1" width="47.4" height="37.0" fill="none" stroke="#000" stroke-width="1.45"/>
<path d="M912.6 2040.5L780.5 2108.5" stroke="#000" stroke-width="1.4" fill="none"/>
<path d="M0 0L-47 -15.4L-31.5 0L-47 15.4Z" transform="translate(755.6 2121.3) rotate(152.8)"/>
<rect x="996.4" y="2139.5" width="36.6" height="56.5" fill="none" stroke="#000" stroke-width="1.45"/>
<path d="M1019.8 2176.6L1121.9 2253.3" stroke="#000" stroke-width="1.4" fill="none"/>
<path d="M0 0L-47 -15.4L-31.5 0L-47 15.4Z" transform="translate(1144.3 2270.1) rotate(36.9)"/>
<text class="n" x="1052" y="1924.2">Weak target</text>
<text class="n" x="571.5" y="2186.3">Strong target</text>
<text class="n" x="1079.5" y="2323.5">No target</text>
<text class="t" x="207" y="1571.8" text-anchor="end">2000</text>
<text class="t" x="207" y="1714.0" text-anchor="end">1500</text>
<text class="t" x="207" y="1856.2" text-anchor="end">1000</text>
<text class="t" x="207" y="1998.4" text-anchor="end">500</text>
<text class="t" x="207" y="2140.6" text-anchor="end">0</text>
<text class="t" x="207" y="2282.8" text-anchor="end">-500</text>
<text class="t" x="207" y="2425.0" text-anchor="end">-1000</text>
<text class="t" x="207" y="2567.2" text-anchor="end">-1500</text>
<text class="t" x="280.7" y="2728.6" text-anchor="middle">96</text>
<text class="t" x="442.7" y="2728.6" text-anchor="middle">97</text>
<text class="t" x="604.7" y="2728.6" text-anchor="middle">98</text>
<text class="t" x="766.7" y="2728.6" text-anchor="middle">99</text>
<text class="t" x="930.9" y="2728.6" text-anchor="middle">100</text>
<text class="t" x="1091.3" y="2728.6" text-anchor="middle">101</text>
<text class="t" x="1253.3" y="2728.6" text-anchor="middle">102</text>
<text class="t" x="1415.3" y="2728.6" text-anchor="middle">103</text>
<text class="l" x="819.5" y="2793.6" text-anchor="middle">Range(km)</text>
<text class="l" transform="translate(69.2 2113.0) rotate(-90)" text-anchor="middle">Velocity(m/s)</text>
<rect x="1537.5" y="1556.0" width="68" height="1113.0" fill="url(#cb)"/>
<rect x="1538.25" y="1556.75" width="66.5" height="1111.5" fill="none" stroke="#262626" stroke-width="1.7"/>
<text class="c" x="1622.3" y="1570.5">0</text>
<path d="M1593.5 1667.9H1605" stroke="#262626" stroke-width="1.7"/>
<text class="c" x="1622.3" y="1681.8">-10</text>
<path d="M1593.5 1779.2H1605" stroke="#262626" stroke-width="1.7"/>
<text class="c" x="1622.3" y="1793.1">-20</text>
<path d="M1593.5 1890.5H1605" stroke="#262626" stroke-width="1.7"/>
<text class="c" x="1622.3" y="1904.4">-30</text>
<path d="M1593.5 2001.8H1605" stroke="#262626" stroke-width="1.7"/>
<text class="c" x="1622.3" y="2015.7">-40</text>
<path d="M1593.5 2113.1H1605" stroke="#262626" stroke-width="1.7"/>
<text class="c" x="1622.3" y="2127.0">-50</text>
<path d="M1593.5 2224.4H1605" stroke="#262626" stroke-width="1.7"/>
<text class="c" x="1622.3" y="2238.3">-60</text>
<path d="M1593.5 2335.7H1605" stroke="#262626" stroke-width="1.7"/>
<text class="c" x="1622.3" y="2349.6">-70</text>
<path d="M1593.5 2447.0H1605" stroke="#262626" stroke-width="1.7"/>
<text class="c" x="1622.3" y="2460.9">-80</text>
<path d="M1593.5 2558.3H1605" stroke="#262626" stroke-width="1.7"/>
<text class="c" x="1622.3" y="2572.2">-90</text>
<text class="c" x="1622.3" y="2683.5">-100</text>
<text class="cap" x="920.5" y="1399.5" text-anchor="middle">(<tspan font-weight="bold">a</tspan>)</text>
<text class="cap" x="920.5" y="2897.5" text-anchor="middle">(<tspan font-weight="bold">b</tspan>)</text>
</svg></body></html>
